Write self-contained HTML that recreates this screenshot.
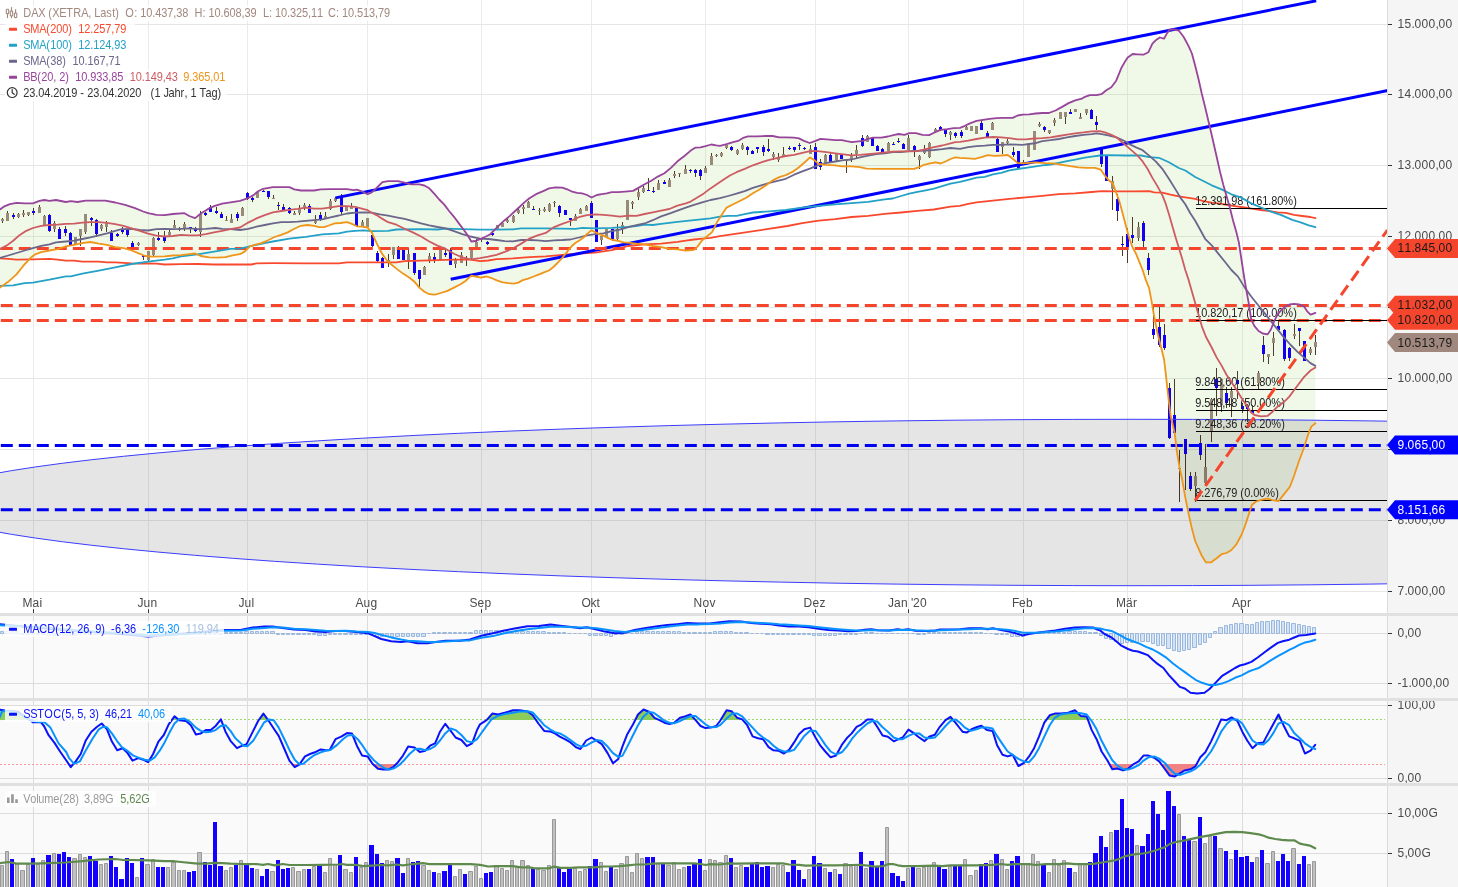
<!DOCTYPE html>
<html lang="de"><head><meta charset="utf-8"><title>DAX (XETRA, Last)</title>
<style>html,body{margin:0;padding:0;background:#fff;overflow:hidden}svg{display:block}</style>
</head><body>
<svg width="1458" height="887" viewBox="0 0 1458 887" font-family="'Liberation Sans', Arial, sans-serif" font-size="12">
<defs>
<clipPath id="cm"><rect x="0" y="0" width="1388" height="613"/></clipPath>
<clipPath id="c1"><rect x="0" y="616" width="1388" height="82"/></clipPath>
<clipPath id="c2"><rect x="0" y="701" width="1388" height="82"/></clipPath>
<clipPath id="c3"><rect x="0" y="786" width="1388" height="101"/></clipPath>
<clipPath id="a2"><rect x="1388" y="701" width="70" height="82"/></clipPath>
</defs>
<rect x="0" y="0" width="1458" height="887" fill="#fff"/>
<rect x="0" y="616" width="1388" height="271" fill="#fafafa"/>
<rect x="1388" y="0" width="70" height="887" fill="#f5f5f5"/>
<path d="M33.5 0V613 M148.5 0V613 M247.5 0V613 M367.5 0V613 M481.5 0V613 M591.5 0V613 M705.5 0V613 M815.5 0V613 M908.5 0V613 M1023.5 0V613 M1127.5 0V613 M1242.5 0V613" stroke="#eaeaea" stroke-width="1" fill="none"/>
<path d="M0 591.5H1388 M0 520.5H1388 M0 449.5H1388 M0 378.5H1388 M0 307.5H1388 M0 236.5H1388 M0 165.5H1388 M0 94.5H1388 M0 24.5H1388" stroke="#e6e6e6" stroke-width="1" fill="none"/>
<path d="M33.5 616V698M33.5 701V783M33.5 786V887 M148.5 616V698M148.5 701V783M148.5 786V887 M247.5 616V698M247.5 701V783M247.5 786V887 M367.5 616V698M367.5 701V783M367.5 786V887 M481.5 616V698M481.5 701V783M481.5 786V887 M591.5 616V698M591.5 701V783M591.5 786V887 M705.5 616V698M705.5 701V783M705.5 786V887 M815.5 616V698M815.5 701V783M815.5 786V887 M908.5 616V698M908.5 701V783M908.5 786V887 M1023.5 616V698M1023.5 701V783M1023.5 786V887 M1127.5 616V698M1127.5 701V783M1127.5 786V887 M1242.5 616V698M1242.5 701V783M1242.5 786V887 M0 633.5H1388 M0 683.5H1388 M0 705.5H1388 M0 778.5H1388 M0 813.5H1388 M0 853.5H1388" stroke="#dcdcdc" stroke-width="1" fill="none"/>
<!--MAIN-->
<g clip-path="url(#cm)">
<path d="M0.0 209.4 L4.9 206.1 L9.9 204.1 L16.5 202.8 L24.7 203.3 L32.9 203.3 L39.5 200.8 L44.4 200.0 L49.4 200.8 L56.0 200.0 L65.8 202.0 L70.8 201.2 L77.4 202.0 L85.6 200.7 L95.5 200.7 L105.3 200.7 L115.2 202.5 L125.1 204.9 L135.0 208.2 L143.2 211.5 L148.1 213.2 L156.4 214.8 L164.6 215.1 L172.8 214.0 L184.4 213.2 L189.3 216.0 L195.1 218.1 L200.8 213.5 L207.4 209.4 L214.0 206.1 L222.2 203.6 L230.5 202.3 L240.0 200.8 L246.6 198.7 L253.2 195.4 L258.1 191.3 L263.0 188.8 L272.9 187.2 L289.4 187.2 L294.3 189.3 L300.9 190.5 L314.1 190.5 L320.7 189.3 L330.5 189.1 L347.0 189.1 L353.6 190.1 L356.9 189.6 L361.8 191.3 L367.6 194.2 L371.7 192.4 L376.6 188.0 L382.4 182.2 L388.1 181.1 L398.0 181.1 L404.6 182.7 L411.2 184.4 L419.4 184.4 L424.4 185.5 L429.3 188.3 L434.2 193.7 L439.2 199.5 L444.1 204.4 L449.1 211.0 L454.0 216.8 L458.9 223.4 L463.9 230.0 L468.0 235.7 L471.3 241.5 L475.4 241.0 L480.0 239.1 L484.9 237.0 L489.9 234.5 L494.8 229.6 L499.8 224.7 L504.7 220.2 L509.6 216.1 L514.6 211.5 L519.5 207.0 L524.4 202.4 L529.4 198.3 L536.0 194.2 L542.6 191.4 L549.1 188.4 L555.7 187.3 L562.3 187.6 L567.2 189.3 L572.2 191.7 L577.1 192.9 L582.1 193.4 L587.0 195.0 L591.6 197.5 L596.9 195.0 L601.8 194.2 L606.7 193.4 L611.7 192.2 L618.3 192.2 L624.9 191.7 L633.1 190.9 L638.0 188.1 L644.6 184.3 L651.2 180.7 L657.8 176.6 L664.4 173.3 L670.9 167.9 L677.5 161.3 L684.1 156.3 L690.7 150.6 L695.6 147.6 L700.6 147.3 L705.5 146.1 L711.3 144.5 L716.2 145.3 L720.0 145.8 L726.6 144.2 L733.2 142.2 L738.1 140.9 L743.0 137.9 L748.0 136.3 L756.2 136.3 L766.1 136.0 L772.7 136.0 L779.3 137.3 L785.8 137.3 L794.1 137.6 L799.0 138.4 L804.0 140.9 L809.7 143.0 L815.5 140.9 L820.4 138.9 L827.0 139.3 L835.2 140.1 L841.8 140.1 L846.7 141.2 L851.7 142.2 L858.3 141.4 L863.2 140.9 L868.1 138.9 L873.1 137.6 L881.3 137.6 L887.9 136.5 L894.5 134.8 L898.6 134.0 L904.4 134.8 L909.3 133.2 L915.9 133.2 L922.5 134.8 L929.1 135.1 L934.0 132.7 L940.6 129.9 L947.2 129.1 L953.7 128.1 L960.0 127.8 L964.9 125.8 L969.9 123.4 L976.5 120.9 L983.0 119.8 L989.6 118.9 L996.2 118.1 L1002.8 117.9 L1012.7 117.9 L1017.6 115.5 L1022.6 114.7 L1029.1 114.3 L1035.7 113.5 L1042.3 113.0 L1048.9 113.0 L1055.5 110.5 L1062.1 106.9 L1068.6 103.1 L1075.2 100.3 L1081.8 98.7 L1084.9 96.8 L1089.9 95.1 L1096.5 95.1 L1101.4 94.2 L1106.3 90.2 L1111.3 87.2 L1116.2 80.7 L1121.2 68.3 L1124.4 62.6 L1127.7 57.6 L1132.7 54.0 L1137.6 54.3 L1143.4 54.7 L1148.3 52.3 L1152.4 43.6 L1155.7 40.3 L1159.8 37.5 L1164.0 38.7 L1167.2 32.9 L1169.7 29.6 L1173.8 29.3 L1178.8 30.5 L1183.7 37.0 L1188.6 46.1 L1191.9 53.5 L1195.2 65.8 L1198.5 79.0 L1201.8 93.8 L1205.1 107.0 L1208.4 121.0 L1211.7 135.0 L1216.6 156.5 L1219.9 171.3 L1223.2 184.4 L1226.5 196.0 L1229.8 207.5 L1233.1 220.7 L1236.4 232.2 L1238.8 242.1 L1241.3 258.5 L1243.8 275.0 L1246.3 289.9 L1248.7 303.0 L1251.2 319.5 L1254.5 326.1 L1258.6 331.0 L1262.7 333.5 L1267.7 334.3 L1270.9 329.4 L1274.2 321.2 L1277.5 314.6 L1281.6 309.6 L1285.8 306.3 L1289.9 304.4 L1294.0 303.9 L1298.9 304.4 L1303.9 306.3 L1307.2 311.3 L1310.5 314.6 L1315.4 312.9 L1315.4 423.3 L1311.3 426.6 L1308.0 434.8 L1303.9 448.0 L1298.9 461.2 L1294.0 476.0 L1289.9 486.7 L1284.1 494.1 L1278.4 501.2 L1272.6 500.2 L1267.7 498.7 L1261.1 499.8 L1256.1 501.5 L1252.0 504.8 L1247.9 517.1 L1244.6 527.0 L1241.3 535.2 L1236.4 544.3 L1231.4 550.0 L1226.5 553.0 L1221.6 554.2 L1216.6 558.3 L1210.9 562.4 L1205.9 562.4 L1201.8 555.8 L1198.5 548.4 L1195.2 541.0 L1191.9 528.6 L1188.6 513.8 L1185.3 497.4 L1182.1 479.3 L1179.6 467.7 L1177.1 452.9 L1174.7 433.2 L1170.5 415.0 L1168.9 401.8 L1167.2 387.0 L1165.6 372.2 L1164.0 359.0 L1160.7 345.8 L1157.4 332.7 L1154.1 316.2 L1151.6 301.4 L1149.1 288.2 L1145.8 279.9 L1142.6 270.0 L1139.3 261.8 L1136.0 253.6 L1132.7 247.8 L1129.4 238.8 L1126.1 226.4 L1122.8 214.1 L1119.5 201.7 L1116.2 192.7 L1112.9 183.6 L1108.8 180.3 L1104.7 175.4 L1100.6 169.6 L1095.0 167.8 L1086.7 167.8 L1078.5 167.3 L1070.3 166.2 L1062.1 164.9 L1053.8 163.4 L1045.6 163.2 L1035.7 162.4 L1029.1 162.9 L1022.6 163.4 L1017.6 162.9 L1012.7 158.8 L1007.7 155.0 L1001.2 155.5 L994.6 155.8 L988.0 155.1 L981.4 157.1 L974.8 158.8 L968.2 158.4 L960.0 157.9 L955.4 157.4 L950.5 159.0 L945.5 161.5 L940.6 163.5 L935.6 162.3 L929.1 163.6 L924.1 164.8 L919.2 167.2 L914.2 168.9 L892.8 168.9 L876.4 168.9 L866.5 168.6 L859.9 167.2 L851.7 166.4 L841.8 166.4 L835.2 165.3 L825.3 164.8 L818.8 164.0 L813.8 159.8 L810.0 157.4 L805.6 161.5 L799.0 167.2 L792.4 171.9 L785.8 175.1 L779.3 177.1 L772.7 180.4 L766.1 185.3 L759.5 189.5 L752.9 193.3 L746.3 197.7 L739.8 201.0 L733.2 204.3 L726.6 207.6 L720.0 217.4 L717.0 222.2 L712.1 232.1 L707.2 236.2 L702.2 240.3 L697.3 246.9 L694.0 249.8 L685.8 250.7 L677.5 249.3 L669.3 248.8 L661.1 247.2 L652.8 246.0 L644.6 244.4 L636.4 243.6 L630.0 242.8 L623.6 242.3 L618.1 240.9 L612.7 240.0 L608.3 238.1 L603.9 235.9 L599.5 234.3 L595.1 232.1 L591.3 230.4 L587.4 233.7 L584.1 237.0 L579.7 240.3 L575.3 243.0 L572.1 245.8 L568.8 249.6 L565.5 254.0 L562.2 257.9 L557.8 262.6 L553.4 267.0 L549.0 270.5 L544.6 272.1 L539.1 274.3 L533.6 276.5 L528.2 278.7 L522.7 280.1 L518.3 282.6 L513.9 283.6 L508.4 283.1 L502.9 282.3 L497.4 280.6 L491.9 278.2 L486.5 276.5 L481.0 277.6 L475.4 276.5 L471.3 275.7 L465.5 281.0 L460.6 284.3 L454.0 287.6 L447.4 290.9 L440.8 293.0 L435.1 294.7 L429.3 294.2 L424.4 291.7 L419.4 287.6 L414.5 281.8 L409.5 277.7 L403.0 273.6 L396.4 268.6 L391.4 264.5 L386.5 260.1 L381.6 253.0 L376.6 243.1 L371.7 232.4 L367.6 227.5 L361.8 226.7 L356.9 226.3 L351.9 223.9 L347.0 222.2 L340.4 223.0 L334.7 223.4 L328.9 225.5 L324.0 227.2 L319.0 227.2 L314.1 225.8 L307.5 225.0 L300.9 225.8 L294.3 228.8 L287.7 232.4 L281.2 234.9 L274.6 237.0 L268.0 240.3 L261.4 243.1 L254.8 244.8 L249.9 246.4 L244.9 251.4 L240.0 254.2 L233.7 255.1 L225.5 257.1 L217.3 257.6 L209.1 257.4 L200.8 256.0 L195.1 253.5 L189.3 254.2 L181.1 255.1 L172.8 255.5 L164.6 256.3 L151.4 256.6 L144.9 256.0 L139.9 253.8 L131.7 250.5 L123.5 248.1 L115.2 247.2 L107.0 244.8 L98.8 243.6 L90.5 242.0 L82.3 243.1 L74.1 244.8 L65.8 246.4 L57.6 249.2 L49.4 250.5 L41.2 252.2 L34.6 254.7 L29.6 258.8 L23.0 266.2 L16.5 274.4 L8.2 281.8 L0.0 287.6Z" fill="#8cc850" fill-opacity="0.13" stroke="none"/>
<path d="M2.5 218V223M7.5 211V221M13.5 213V219M18.5 213V218M23.5 210V217M28.5 212V216M33.5 208V215M39.5 205V213M44.5 215V226M49.5 214V232M54.5 221V232M59.5 227V239M65.5 226V236M70.5 232V246M75.5 237V244M80.5 229V246M85.5 214V234M91.5 217V226M96.5 219V237M101.5 224V231M106.5 221V232M111.5 230V241M117.5 233V237M122.5 227V234M127.5 229V237M132.5 241V247M138.5 242V246M143.5 255V260M148.5 251V262M153.5 237V256M158.5 232V241M164.5 231V243M169.5 230V236M174.5 220V228M179.5 227V231M184.5 222V231M190.5 227V233M195.5 227V232M200.5 211V237M205.5 212V216M210.5 205V212M216.5 207V214M221.5 212V218M226.5 216V221M231.5 214V223M237.5 212V221M242.5 207V216M247.5 192V200M252.5 197V202M257.5 191V198M263.5 190V192M268.5 191V199M273.5 195V199M278.5 202V210M283.5 204V210M289.5 207V214M294.5 211V215M299.5 205V215M304.5 203V210M309.5 204V213M315.5 215V224M320.5 212V221M325.5 212V219M330.5 199V210M335.5 197V202M341.5 194V215M346.5 206V211M351.5 203V209M356.5 208V227M362.5 220V227M367.5 218V227M372.5 234V247M377.5 251V262M382.5 257V268M388.5 254V267M393.5 247V259M398.5 246V259M403.5 250V260M408.5 248V269M414.5 253V275M419.5 270V288M424.5 266V275M429.5 253V263M434.5 253V263M440.5 248V260M445.5 248V257M450.5 248V265M455.5 258V268M461.5 252V263M466.5 256V266M471.5 250V259M476.5 239V247M481.5 238V242M487.5 241V245M492.5 232V236M497.5 225V229M502.5 223V227M507.5 219V223M513.5 215V223M518.5 209V214M523.5 205V214M528.5 201V208M533.5 206V210M539.5 208V215M544.5 207V212M549.5 203V212M554.5 201V207M559.5 205V217M565.5 210V215M570.5 218V226M575.5 214V221M580.5 208V214M586.5 205V211M591.5 201V218M596.5 220V242M601.5 235V245M606.5 229V237M612.5 229V241M617.5 224V240M622.5 222V234M627.5 200V220M632.5 201V209M638.5 189V200M643.5 186V193M648.5 178V191M653.5 187V193M658.5 180V190M664.5 180V184M669.5 178V187M674.5 171V178M679.5 173V177M685.5 165V174M690.5 169V173M695.5 169V177M700.5 169V180M705.5 166V173M711.5 153V165M716.5 154V157M721.5 152V157M726.5 145V149M731.5 146V151M737.5 149V155M742.5 143V150M747.5 146V155M752.5 150V154M757.5 147V153M763.5 145V156M768.5 139V152M773.5 152V160M778.5 153V162M783.5 147V156M789.5 146V150M794.5 147V152M799.5 143V150M804.5 147V150M810.5 145V154M815.5 143V169M820.5 159V170M825.5 154V163M830.5 153V162M836.5 154V161M841.5 155V159M846.5 159V173M851.5 153V162M856.5 145V158M862.5 135V147M867.5 135V142M872.5 138V146M877.5 145V151M882.5 148V153M888.5 142V151M893.5 142V145M898.5 138V143M903.5 143V149M908.5 135V150M914.5 145V157M919.5 155V169M924.5 145V154M929.5 142V158M935.5 128V133M940.5 126V131M945.5 129V137M950.5 131V140M955.5 132V138M961.5 130V138M966.5 126V130M971.5 126V131M976.5 126V134M981.5 121V130M987.5 131V137M992.5 122V130M997.5 138V152M1002.5 142V154M1007.5 139V144M1013.5 147V157M1018.5 151V168M1023.5 160V164M1028.5 145V157M1034.5 131V150M1039.5 122V127M1044.5 126V132M1049.5 130V134M1054.5 118V126M1060.5 112V119M1065.5 112V124M1070.5 109V114M1075.5 109V112M1080.5 113V119M1086.5 109V115M1091.5 109V119M1096.5 116V130M1101.5 148V167M1106.5 156V181M1112.5 176V210M1117.5 194V221M1122.5 236V256M1127.5 228V263M1132.5 217V243M1138.5 222V241M1143.5 221V247M1148.5 253V275M1153.5 307V339M1159.5 306V347M1164.5 324V350M1169.5 383V439M1174.5 379V434M1179.5 450V502M1185.5 439V490M1190.5 472V491M1195.5 472V502M1200.5 435V460M1205.5 444V486M1211.5 398V442M1216.5 368V416M1221.5 379V412M1226.5 387V408M1231.5 387V417M1237.5 371V399M1242.5 403V413M1247.5 404V422M1252.5 405V413M1258.5 371V389M1263.5 336V362M1268.5 354V364M1273.5 332V356M1278.5 321V330M1284.5 329V361M1289.5 347V361M1294.5 324V339M1299.5 328V346M1304.5 341V361M1310.5 347V355M1315.5 335V355" stroke="#4e3b2c" stroke-width="1" fill="none"/>
<path d="M1.0 219h3V221h-3ZM6.0 213h3V221h-3ZM17.0 214h3V217h-3ZM22.0 213h3V215h-3ZM27.0 212h3V215h-3ZM38.0 207h3V213h-3ZM43.0 216h3V225h-3ZM53.0 223h3V229h-3ZM74.0 237h3V244h-3ZM79.0 229h3V236h-3ZM84.0 214h3V232h-3ZM100.0 225h3V229h-3ZM105.0 223h3V227h-3ZM137.0 243h3V245h-3ZM147.0 251h3V260h-3ZM152.0 238h3V255h-3ZM168.0 232h3V235h-3ZM173.0 225h3V228h-3ZM178.0 228h3V230h-3ZM183.0 224h3V228h-3ZM199.0 214h3V232h-3ZM225.0 220h3V221h-3ZM230.0 219h3V223h-3ZM241.0 208h3V216h-3ZM256.0 192h3V198h-3ZM272.0 198h3V199h-3ZM293.0 213h3V215h-3ZM298.0 209h3V213h-3ZM303.0 205h3V207h-3ZM314.0 221h3V223h-3ZM324.0 216h3V219h-3ZM329.0 201h3V209h-3ZM334.0 198h3V201h-3ZM345.0 206h3V211h-3ZM350.0 206h3V209h-3ZM361.0 222h3V226h-3ZM366.0 218h3V227h-3ZM387.0 260h3V262h-3ZM392.0 247h3V255h-3ZM407.0 254h3V261h-3ZM423.0 267h3V275h-3ZM428.0 256h3V261h-3ZM439.0 250h3V260h-3ZM454.0 259h3V264h-3ZM460.0 255h3V263h-3ZM470.0 250h3V258h-3ZM475.0 242h3V247h-3ZM480.0 238h3V240h-3ZM496.0 225h3V229h-3ZM501.0 223h3V227h-3ZM506.0 220h3V222h-3ZM512.0 216h3V222h-3ZM517.0 210h3V213h-3ZM522.0 207h3V209h-3ZM527.0 202h3V208h-3ZM538.0 210h3V211h-3ZM543.0 209h3V211h-3ZM548.0 204h3V211h-3ZM553.0 202h3V203h-3ZM574.0 216h3V221h-3ZM579.0 209h3V214h-3ZM585.0 206h3V211h-3ZM600.0 236h3V240h-3ZM605.0 229h3V237h-3ZM616.0 229h3V239h-3ZM621.0 225h3V229h-3ZM626.0 200h3V220h-3ZM631.0 202h3V204h-3ZM637.0 192h3V197h-3ZM642.0 188h3V192h-3ZM657.0 183h3V190h-3ZM668.0 180h3V187h-3ZM673.0 174h3V176h-3ZM678.0 173h3V174h-3ZM684.0 169h3V174h-3ZM704.0 168h3V173h-3ZM710.0 156h3V165h-3ZM715.0 155h3V156h-3ZM720.0 153h3V156h-3ZM725.0 145h3V148h-3ZM736.0 150h3V154h-3ZM741.0 145h3V149h-3ZM772.0 154h3V157h-3ZM777.0 157h3V160h-3ZM782.0 154h3V156h-3ZM809.0 149h3V154h-3ZM824.0 155h3V163h-3ZM835.0 154h3V160h-3ZM845.0 160h3V161h-3ZM850.0 155h3V159h-3ZM855.0 150h3V154h-3ZM866.0 136h3V142h-3ZM887.0 143h3V151h-3ZM907.0 138h3V150h-3ZM918.0 156h3V160h-3ZM923.0 149h3V153h-3ZM928.0 143h3V157h-3ZM934.0 129h3V132h-3ZM949.0 132h3V135h-3ZM965.0 127h3V130h-3ZM970.0 126h3V131h-3ZM975.0 126h3V134h-3ZM991.0 123h3V130h-3ZM1001.0 142h3V147h-3ZM1006.0 141h3V143h-3ZM1022.0 162h3V164h-3ZM1027.0 145h3V157h-3ZM1033.0 131h3V150h-3ZM1038.0 124h3V126h-3ZM1048.0 130h3V133h-3ZM1053.0 120h3V123h-3ZM1059.0 112h3V119h-3ZM1064.0 112h3V117h-3ZM1074.0 109h3V112h-3ZM1079.0 117h3V119h-3ZM1085.0 109h3V113h-3ZM1111.0 181h3V189h-3ZM1137.0 227h3V238h-3ZM1178.0 468h3V469h-3ZM1194.0 476h3V486h-3ZM1204.0 467h3V483h-3ZM1210.0 399h3V432h-3ZM1220.0 379h3V405h-3ZM1230.0 391h3V398h-3ZM1257.0 373h3V383h-3ZM1267.0 354h3V357h-3ZM1272.0 338h3V343h-3ZM1293.0 334h3V336h-3ZM1309.0 349h3V353h-3ZM1314.0 342h3V347h-3Z" fill="#9a8a78"/>
<path d="M12.0 215h3V217h-3ZM32.0 211h3V213h-3ZM48.0 215h3V231h-3ZM58.0 229h3V239h-3ZM64.0 229h3V233h-3ZM69.0 233h3V245h-3ZM90.0 218h3V220h-3ZM95.0 220h3V234h-3ZM110.0 233h3V241h-3ZM116.0 234h3V236h-3ZM121.0 230h3V232h-3ZM126.0 230h3V235h-3ZM131.0 243h3V247h-3ZM142.0 255h3V257h-3ZM157.0 238h3V240h-3ZM163.0 237h3V241h-3ZM189.0 227h3V229h-3ZM194.0 228h3V231h-3ZM204.0 213h3V215h-3ZM209.0 207h3V212h-3ZM215.0 211h3V213h-3ZM220.0 214h3V218h-3ZM236.0 214h3V218h-3ZM246.0 193h3V199h-3ZM251.0 198h3V200h-3ZM262.0 191h3V192h-3ZM267.0 191h3V197h-3ZM277.0 205h3V206h-3ZM282.0 207h3V210h-3ZM288.0 208h3V213h-3ZM308.0 206h3V213h-3ZM319.0 215h3V219h-3ZM340.0 197h3V212h-3ZM355.0 208h3V226h-3ZM371.0 235h3V246h-3ZM376.0 253h3V261h-3ZM381.0 258h3V268h-3ZM397.0 250h3V259h-3ZM402.0 250h3V260h-3ZM413.0 253h3V273h-3ZM418.0 270h3V279h-3ZM433.0 257h3V261h-3ZM444.0 253h3V255h-3ZM449.0 250h3V265h-3ZM465.0 258h3V260h-3ZM486.0 242h3V244h-3ZM491.0 233h3V235h-3ZM532.0 209h3V210h-3ZM558.0 206h3V213h-3ZM564.0 210h3V215h-3ZM569.0 218h3V220h-3ZM590.0 203h3V218h-3ZM595.0 220h3V242h-3ZM611.0 229h3V239h-3ZM647.0 190h3V191h-3ZM652.0 191h3V192h-3ZM663.0 182h3V184h-3ZM689.0 170h3V171h-3ZM694.0 170h3V173h-3ZM699.0 170h3V176h-3ZM730.0 147h3V150h-3ZM746.0 147h3V150h-3ZM751.0 151h3V154h-3ZM756.0 147h3V149h-3ZM762.0 147h3V152h-3ZM767.0 149h3V151h-3ZM788.0 148h3V149h-3ZM793.0 147h3V150h-3ZM798.0 145h3V146h-3ZM803.0 148h3V149h-3ZM814.0 147h3V169h-3ZM819.0 162h3V167h-3ZM829.0 155h3V162h-3ZM840.0 155h3V159h-3ZM861.0 138h3V146h-3ZM871.0 138h3V146h-3ZM876.0 146h3V151h-3ZM881.0 149h3V152h-3ZM892.0 144h3V145h-3ZM897.0 141h3V142h-3ZM902.0 144h3V149h-3ZM913.0 146h3V150h-3ZM939.0 127h3V130h-3ZM944.0 129h3V134h-3ZM954.0 133h3V136h-3ZM960.0 132h3V136h-3ZM980.0 123h3V130h-3ZM986.0 133h3V137h-3ZM996.0 139h3V152h-3ZM1012.0 152h3V155h-3ZM1017.0 151h3V168h-3ZM1043.0 127h3V130h-3ZM1069.0 112h3V114h-3ZM1090.0 110h3V119h-3ZM1095.0 122h3V125h-3ZM1100.0 149h3V164h-3ZM1105.0 156h3V181h-3ZM1116.0 199h3V211h-3ZM1121.0 244h3V245h-3ZM1126.0 234h3V247h-3ZM1131.0 235h3V238h-3ZM1142.0 223h3V241h-3ZM1147.0 258h3V270h-3ZM1152.0 329h3V335h-3ZM1158.0 327h3V345h-3ZM1163.0 335h3V348h-3ZM1168.0 388h3V438h-3ZM1173.0 415h3V433h-3ZM1184.0 439h3V454h-3ZM1189.0 476h3V489h-3ZM1199.0 443h3V455h-3ZM1215.0 379h3V388h-3ZM1225.0 393h3V403h-3ZM1236.0 380h3V384h-3ZM1241.0 406h3V409h-3ZM1246.0 406h3V409h-3ZM1251.0 411h3V413h-3ZM1262.0 345h3V354h-3ZM1277.0 326h3V330h-3ZM1283.0 330h3V359h-3ZM1288.0 348h3V358h-3ZM1298.0 328h3V331h-3ZM1303.0 341h3V361h-3Z" fill="#1200f5"/>
<path d="M0.0 258.3 L8.2 258.8 L16.5 259.6 L32.9 259.3 L49.4 258.8 L57.6 259.6 L65.8 260.7 L74.1 260.7 L82.3 261.7 L98.8 261.7 L107.0 262.4 L115.2 262.4 L131.7 263.4 L139.9 263.7 L148.1 263.4 L156.4 263.7 L164.6 264.5 L181.1 264.2 L197.5 264.0 L214.0 264.5 L240.0 264.5 L251.5 264.5 L256.5 263.4 L272.9 263.2 L305.8 263.4 L338.8 263.4 L347.0 262.4 L371.7 262.4 L396.4 262.4 L404.6 261.2 L421.1 260.7 L437.5 260.1 L454.0 259.6 L470.5 259.6 L480.0 261.2 L488.2 260.5 L496.5 259.2 L512.9 258.4 L529.4 257.2 L545.8 256.4 L562.3 254.8 L578.8 253.5 L595.2 252.6 L611.7 250.2 L619.9 248.2 L628.1 246.0 L644.6 244.4 L661.1 243.6 L677.5 241.9 L685.8 240.6 L694.0 239.5 L702.2 238.6 L710.5 237.8 L720.0 236.2 L787.5 226.0 L802.3 223.2 L818.8 220.7 L835.2 219.1 L851.7 217.0 L868.1 215.8 L884.6 213.8 L901.1 212.5 L917.5 210.9 L934.0 209.5 L950.5 206.7 L960.0 205.9 L968.2 203.9 L976.5 202.4 L992.9 200.7 L1009.4 198.8 L1025.8 197.4 L1042.3 195.8 L1058.8 194.2 L1075.2 193.3 L1091.7 192.0 L1101.6 191.2 L1116.4 191.4 L1132.8 191.4 L1149.3 191.2 L1154.1 192.3 L1162.3 192.7 L1170.5 194.7 L1178.8 196.3 L1187.0 197.6 L1195.2 198.9 L1203.5 201.2 L1211.7 202.6 L1219.9 203.7 L1228.1 205.0 L1236.4 206.3 L1244.6 207.5 L1252.8 208.8 L1261.1 210.0 L1269.3 211.1 L1277.5 212.4 L1285.8 212.8 L1294.0 214.9 L1302.2 216.0 L1310.5 217.0 L1315.4 218.2" fill="none" stroke="#f8492e" stroke-width="1.8" stroke-linejoin="round" stroke-linecap="round"/>
<ellipse cx="1133" cy="502.5" rx="1214" ry="83.2" fill="#000" fill-opacity="0.1" stroke="#3c3cff" stroke-width="1"/>
<path d="M335.5 197.9L1316.2 0.8" stroke="#0000ff" stroke-width="3" fill="none"/>
<path d="M450.7 279.3L1388 90.5" stroke="#0000ff" stroke-width="3" fill="none"/>
<path d="M0.8 248.4H1388" stroke="#f5462d" stroke-width="3" stroke-dasharray="12 6" fill="none"/>
<path d="M0.8 305.6H1388" stroke="#f5462d" stroke-width="3" stroke-dasharray="12 6" fill="none"/>
<path d="M0.8 320.4H1388" stroke="#f5462d" stroke-width="3" stroke-dasharray="12 6" fill="none"/>
<path d="M0.8 445.4H1388" stroke="#0000f0" stroke-width="3" stroke-dasharray="12 6" fill="none"/>
<path d="M0.8 509.7H1388" stroke="#0000f0" stroke-width="3" stroke-dasharray="12 6" fill="none"/>
<path d="M1196 208.5H1388" stroke="#000" stroke-width="1"/><text x="1195.2 1201.2 1207.2 1210.2 1216.2 1222.2 1228.2 1231.2 1237.2 1243.2 1246.2 1250.2 1256.2 1262.2 1268.2 1271.2 1277.2 1283.2 1293.2" y="205.0" font-size="11" fill="#222" transform="matrix(1 0 0 1.09 0 -18.450)">12.391,98 (161.80%)</text>
<path d="M1196 320.5H1388" stroke="#000" stroke-width="1"/><text x="1195.2 1201.2 1207.2 1210.2 1216.2 1222.2 1228.2 1231.2 1237.2 1243.2 1246.2 1250.2 1256.2 1262.2 1268.2 1271.2 1277.2 1283.2 1293.2" y="317.0" font-size="11" fill="#222" transform="matrix(1 0 0 1.09 0 -28.530)">10.820,17 (100.00%)</text>
<path d="M1196 389.5H1388" stroke="#000" stroke-width="1"/><text x="1195.2 1201.2 1204.2 1210.2 1216.2 1222.2 1225.2 1231.2 1237.2 1240.2 1244.2 1250.2 1256.2 1259.2 1265.2 1271.2 1281.2" y="386.0" font-size="11" fill="#222" transform="matrix(1 0 0 1.09 0 -34.740)">9.848,60 (61.80%)</text>
<path d="M1196 410.5H1388" stroke="#000" stroke-width="1"/><text x="1195.2 1201.2 1204.2 1210.2 1216.2 1222.2 1225.2 1231.2 1237.2 1240.2 1244.2 1250.2 1256.2 1259.2 1265.2 1271.2 1281.2" y="407.0" font-size="11" fill="#222" transform="matrix(1 0 0 1.09 0 -36.630)">9.548,48 (50.00%)</text>
<path d="M1196 431.5H1388" stroke="#000" stroke-width="1"/><text x="1195.2 1201.2 1204.2 1210.2 1216.2 1222.2 1225.2 1231.2 1237.2 1240.2 1244.2 1250.2 1256.2 1259.2 1265.2 1271.2 1281.2" y="428.0" font-size="11" fill="#222" transform="matrix(1 0 0 1.09 0 -38.520)">9.248,36 (38.20%)</text>
<path d="M1196 500.5H1388" stroke="#000" stroke-width="1"/><text x="1195.2 1201.2 1204.2 1210.2 1216.2 1222.2 1225.2 1231.2 1237.2 1240.2 1244.2 1250.2 1253.2 1259.2 1265.2 1275.2" y="497.0" font-size="11" fill="#222" transform="matrix(1 0 0 1.09 0 -44.730)">8.276,79 (0.00%)</text>
<path d="M1195 500.6L1387.4 230" stroke="#f5462d" stroke-width="3" stroke-dasharray="12 6" fill="none"/>
<path d="M0.0 285.9 L13.2 285.4 L24.7 283.1 L32.9 282.6 L49.4 279.7 L65.8 276.4 L70.8 276.4 L82.3 273.6 L98.8 270.6 L115.2 267.3 L131.7 264.0 L148.1 261.6 L164.6 259.6 L172.8 258.3 L181.1 256.3 L197.5 254.3 L214.0 251.7 L230.5 248.9 L240.0 248.6 L246.6 247.2 L256.5 244.8 L264.7 243.1 L272.9 241.5 L289.4 238.7 L305.8 236.9 L322.3 234.4 L338.8 233.3 L347.0 231.6 L355.2 230.8 L363.5 230.3 L371.7 231.1 L388.1 230.8 L396.4 229.5 L421.1 229.1 L437.5 229.5 L445.8 228.6 L462.2 229.1 L480.0 229.6 L496.5 229.6 L512.9 229.3 L521.2 228.4 L545.8 228.4 L575.5 228.8 L582.1 227.9 L595.2 228.3 L611.7 227.9 L619.9 227.4 L628.1 226.8 L636.4 226.0 L644.6 224.7 L652.8 225.0 L661.1 223.8 L677.5 221.9 L694.0 220.2 L710.5 218.4 L720.0 216.6 L728.2 215.8 L736.5 215.8 L744.7 214.2 L752.9 212.5 L769.4 211.4 L785.8 210.0 L802.3 207.6 L818.8 205.9 L835.2 204.3 L851.7 203.1 L868.1 201.8 L884.6 199.3 L892.8 198.5 L901.1 196.0 L909.3 193.6 L917.5 191.9 L925.8 190.3 L934.0 188.6 L942.2 186.2 L950.5 183.7 L960.0 181.8 L968.2 179.8 L976.5 177.7 L984.7 176.9 L992.9 174.4 L1001.2 172.8 L1009.4 170.3 L1017.6 169.0 L1025.8 167.8 L1034.1 166.7 L1042.3 165.3 L1050.5 164.5 L1058.8 162.9 L1067.0 161.2 L1075.2 159.6 L1083.5 157.9 L1091.7 156.6 L1099.9 155.5 L1108.1 155.1 L1124.6 155.5 L1141.1 155.5 L1149.3 157.1 L1159.0 157.8 L1168.9 162.2 L1178.8 168.0 L1185.3 170.5 L1195.2 177.0 L1201.8 180.3 L1211.7 185.3 L1221.6 189.4 L1231.4 194.3 L1241.3 197.6 L1251.2 203.4 L1261.1 207.5 L1270.9 211.6 L1280.8 214.9 L1292.3 219.8 L1300.6 222.3 L1308.8 225.3 L1315.4 227.2" fill="none" stroke="#23a1c6" stroke-width="1.8" stroke-linejoin="round" stroke-linecap="round"/>
<path d="M0.0 257.9 L8.2 255.5 L16.5 253.0 L24.7 250.5 L32.9 248.1 L41.2 245.9 L49.4 244.3 L56.0 242.3 L65.8 241.5 L74.1 240.7 L82.3 239.0 L90.5 237.4 L98.8 235.4 L107.0 233.3 L115.2 230.8 L121.8 229.1 L131.7 228.8 L139.9 230.0 L148.1 230.5 L156.4 229.1 L164.6 228.8 L172.8 229.1 L181.1 228.8 L189.3 228.3 L197.5 229.1 L205.8 228.8 L215.6 228.0 L222.2 228.8 L230.5 229.1 L240.0 230.0 L248.2 228.8 L256.5 226.7 L264.7 225.0 L272.9 223.4 L281.2 222.2 L289.4 222.2 L297.6 221.7 L305.8 220.9 L314.1 220.1 L322.3 219.3 L330.5 217.3 L338.8 215.5 L347.0 213.5 L355.2 212.7 L363.5 212.3 L371.7 212.7 L379.9 214.3 L388.1 215.6 L396.4 217.3 L404.6 218.9 L412.8 221.2 L421.1 223.4 L429.3 225.3 L437.5 227.0 L445.8 228.3 L454.0 231.1 L462.2 234.1 L470.5 236.5 L480.0 238.6 L488.2 239.0 L496.5 240.0 L504.7 241.1 L512.9 241.4 L521.2 240.0 L529.4 240.0 L537.6 240.3 L545.8 241.1 L554.1 240.3 L562.3 240.0 L570.5 239.5 L578.8 237.5 L587.0 235.3 L595.2 234.2 L603.5 233.4 L611.7 231.2 L619.9 229.6 L628.1 227.1 L636.4 225.1 L644.6 223.5 L652.8 220.2 L661.1 216.4 L669.3 213.6 L677.5 210.7 L685.8 207.7 L694.0 204.9 L702.2 202.4 L710.5 200.0 L720.0 198.2 L728.2 196.0 L736.5 193.6 L744.7 191.1 L752.9 187.8 L761.2 185.3 L769.4 182.9 L777.6 180.9 L785.8 178.8 L794.1 174.7 L802.3 171.4 L810.5 168.4 L818.8 164.8 L827.0 162.8 L835.2 161.5 L843.5 160.2 L851.7 159.5 L859.9 157.4 L868.1 155.7 L876.4 154.1 L884.6 153.3 L892.8 152.1 L901.1 152.1 L909.3 151.1 L917.5 150.8 L925.8 150.5 L934.0 150.0 L942.2 149.1 L950.5 148.0 L960.0 148.9 L968.2 147.2 L976.5 146.1 L984.7 145.6 L992.9 144.8 L1001.2 144.8 L1009.4 144.4 L1022.6 144.8 L1029.1 144.0 L1035.7 143.1 L1042.3 141.2 L1050.5 140.2 L1058.8 139.0 L1067.0 137.4 L1075.2 136.0 L1083.5 134.9 L1091.7 134.1 L1096.6 133.3 L1101.6 134.1 L1108.1 135.4 L1116.4 137.4 L1124.6 141.0 L1129.4 144.1 L1136.0 147.4 L1142.6 150.2 L1149.1 155.6 L1155.7 161.4 L1162.3 168.8 L1168.9 178.7 L1175.5 189.4 L1180.4 197.6 L1185.3 204.2 L1190.3 213.3 L1195.2 220.7 L1200.2 229.7 L1205.1 238.8 L1211.7 245.3 L1218.3 253.6 L1224.9 261.8 L1231.4 270.0 L1238.0 276.6 L1244.6 287.4 L1251.2 296.5 L1257.8 304.7 L1264.4 312.9 L1270.9 321.2 L1277.5 329.4 L1284.1 337.6 L1290.7 345.0 L1297.3 351.6 L1303.9 357.4 L1310.5 363.1 L1315.4 365.9" fill="none" stroke="#6b668a" stroke-width="1.8" stroke-linejoin="round" stroke-linecap="round"/>
<path d="M0.0 287.6 L8.2 281.8 L16.5 274.4 L23.0 266.2 L29.6 258.8 L34.6 254.7 L41.2 252.2 L49.4 250.5 L57.6 249.2 L65.8 246.4 L74.1 244.8 L82.3 243.1 L90.5 242.0 L98.8 243.6 L107.0 244.8 L115.2 247.2 L123.5 248.1 L131.7 250.5 L139.9 253.8 L144.9 256.0 L151.4 256.6 L164.6 256.3 L172.8 255.5 L181.1 255.1 L189.3 254.2 L195.1 253.5 L200.8 256.0 L209.1 257.4 L217.3 257.6 L225.5 257.1 L233.7 255.1 L240.0 254.2 L244.9 251.4 L249.9 246.4 L254.8 244.8 L261.4 243.1 L268.0 240.3 L274.6 237.0 L281.2 234.9 L287.7 232.4 L294.3 228.8 L300.9 225.8 L307.5 225.0 L314.1 225.8 L319.0 227.2 L324.0 227.2 L328.9 225.5 L334.7 223.4 L340.4 223.0 L347.0 222.2 L351.9 223.9 L356.9 226.3 L361.8 226.7 L367.6 227.5 L371.7 232.4 L376.6 243.1 L381.6 253.0 L386.5 260.1 L391.4 264.5 L396.4 268.6 L403.0 273.6 L409.5 277.7 L414.5 281.8 L419.4 287.6 L424.4 291.7 L429.3 294.2 L435.1 294.7 L440.8 293.0 L447.4 290.9 L454.0 287.6 L460.6 284.3 L465.5 281.0 L471.3 275.7 L475.4 276.5 L481.0 277.6 L486.5 276.5 L491.9 278.2 L497.4 280.6 L502.9 282.3 L508.4 283.1 L513.9 283.6 L518.3 282.6 L522.7 280.1 L528.2 278.7 L533.6 276.5 L539.1 274.3 L544.6 272.1 L549.0 270.5 L553.4 267.0 L557.8 262.6 L562.2 257.9 L565.5 254.0 L568.8 249.6 L572.1 245.8 L575.3 243.0 L579.7 240.3 L584.1 237.0 L587.4 233.7 L591.3 230.4 L595.1 232.1 L599.5 234.3 L603.9 235.9 L608.3 238.1 L612.7 240.0 L618.1 240.9 L623.6 242.3 L630.0 242.8 L636.4 243.6 L644.6 244.4 L652.8 246.0 L661.1 247.2 L669.3 248.8 L677.5 249.3 L685.8 250.7 L694.0 249.8 L697.3 246.9 L702.2 240.3 L707.2 236.2 L712.1 232.1 L717.0 222.2 L720.0 217.4 L726.6 207.6 L733.2 204.3 L739.8 201.0 L746.3 197.7 L752.9 193.3 L759.5 189.5 L766.1 185.3 L772.7 180.4 L779.3 177.1 L785.8 175.1 L792.4 171.9 L799.0 167.2 L805.6 161.5 L810.0 157.4 L813.8 159.8 L818.8 164.0 L825.3 164.8 L835.2 165.3 L841.8 166.4 L851.7 166.4 L859.9 167.2 L866.5 168.6 L876.4 168.9 L892.8 168.9 L914.2 168.9 L919.2 167.2 L924.1 164.8 L929.1 163.6 L935.6 162.3 L940.6 163.5 L945.5 161.5 L950.5 159.0 L955.4 157.4 L960.0 157.9 L968.2 158.4 L974.8 158.8 L981.4 157.1 L988.0 155.1 L994.6 155.8 L1001.2 155.5 L1007.7 155.0 L1012.7 158.8 L1017.6 162.9 L1022.6 163.4 L1029.1 162.9 L1035.7 162.4 L1045.6 163.2 L1053.8 163.4 L1062.1 164.9 L1070.3 166.2 L1078.5 167.3 L1086.7 167.8 L1095.0 167.8 L1100.6 169.6 L1104.7 175.4 L1108.8 180.3 L1112.9 183.6 L1116.2 192.7 L1119.5 201.7 L1122.8 214.1 L1126.1 226.4 L1129.4 238.8 L1132.7 247.8 L1136.0 253.6 L1139.3 261.8 L1142.6 270.0 L1145.8 279.9 L1149.1 288.2 L1151.6 301.4 L1154.1 316.2 L1157.4 332.7 L1160.7 345.8 L1164.0 359.0 L1165.6 372.2 L1167.2 387.0 L1168.9 401.8 L1170.5 415.0 L1174.7 433.2 L1177.1 452.9 L1179.6 467.7 L1182.1 479.3 L1185.3 497.4 L1188.6 513.8 L1191.9 528.6 L1195.2 541.0 L1198.5 548.4 L1201.8 555.8 L1205.9 562.4 L1210.9 562.4 L1216.6 558.3 L1221.6 554.2 L1226.5 553.0 L1231.4 550.0 L1236.4 544.3 L1241.3 535.2 L1244.6 527.0 L1247.9 517.1 L1252.0 504.8 L1256.1 501.5 L1261.1 499.8 L1267.7 498.7 L1272.6 500.2 L1278.4 501.2 L1284.1 494.1 L1289.9 486.7 L1294.0 476.0 L1298.9 461.2 L1303.9 448.0 L1308.0 434.8 L1311.3 426.6 L1315.4 423.3" fill="none" stroke="#ef9519" stroke-width="1.8" stroke-linejoin="round" stroke-linecap="round"/>
<path d="M0.0 248.9 L6.6 245.6 L13.2 240.7 L19.8 234.9 L26.3 230.8 L32.9 228.0 L41.2 225.8 L49.4 225.0 L57.6 224.7 L65.8 223.9 L74.1 223.7 L82.3 222.6 L90.5 222.1 L98.8 222.1 L107.0 222.9 L115.2 224.2 L123.5 225.8 L131.7 228.3 L139.9 230.8 L148.1 233.7 L156.4 235.7 L164.6 236.5 L172.8 236.0 L181.1 234.9 L189.3 235.4 L197.5 235.4 L205.8 234.1 L214.0 232.4 L222.2 230.8 L230.5 229.1 L240.0 227.5 L248.2 222.6 L256.5 218.4 L264.7 215.1 L272.9 212.3 L281.2 211.0 L289.4 209.9 L297.6 208.9 L305.8 207.7 L314.1 208.6 L322.3 208.6 L330.5 207.4 L338.8 206.1 L347.0 206.1 L355.2 206.9 L361.8 208.6 L367.6 210.2 L371.7 212.7 L376.6 215.1 L381.6 218.4 L388.1 222.2 L396.4 224.7 L404.6 228.8 L412.8 232.4 L421.1 236.5 L429.3 241.5 L437.5 245.6 L445.8 248.9 L454.0 253.8 L462.2 257.4 L470.5 259.3 L480.0 258.1 L488.2 256.7 L496.5 254.8 L504.7 251.8 L512.9 248.5 L521.2 243.6 L529.4 238.6 L537.6 235.3 L545.8 232.9 L554.1 227.1 L562.3 223.8 L570.5 221.0 L578.8 217.2 L587.0 215.1 L595.2 214.4 L603.5 214.8 L611.7 215.6 L619.9 216.7 L628.1 215.6 L636.4 215.9 L644.6 214.0 L652.8 212.3 L661.1 210.7 L669.3 209.0 L677.5 205.7 L685.8 203.3 L690.7 201.6 L697.3 197.5 L703.9 193.4 L710.5 188.4 L720.0 182.1 L724.9 178.8 L729.9 175.5 L736.5 172.2 L744.7 168.9 L752.9 165.3 L761.2 162.3 L769.4 159.8 L777.6 157.9 L785.8 156.0 L794.1 154.9 L802.3 152.9 L808.9 151.3 L815.5 150.8 L822.1 151.6 L828.6 152.4 L835.2 153.3 L843.5 154.4 L851.7 155.4 L859.9 154.9 L868.1 154.1 L876.4 153.3 L884.6 152.4 L892.8 151.6 L901.1 151.3 L909.3 151.3 L917.5 151.1 L925.8 149.1 L934.0 147.2 L942.2 145.5 L950.5 143.4 L955.4 142.2 L960.0 141.8 L968.2 140.7 L976.5 139.0 L984.7 137.7 L992.9 137.0 L1001.2 137.4 L1009.4 138.2 L1017.6 139.3 L1025.8 139.3 L1034.1 138.5 L1042.3 138.2 L1050.5 137.4 L1058.8 136.0 L1067.0 134.6 L1075.2 133.3 L1083.5 132.4 L1091.7 131.3 L1099.9 131.1 L1104.9 132.4 L1111.4 134.9 L1116.4 137.4 L1121.3 141.5 L1124.4 144.1 L1131.0 149.9 L1137.6 155.6 L1142.6 161.4 L1147.5 168.8 L1152.4 177.9 L1157.4 186.1 L1162.3 195.1 L1165.6 203.4 L1168.9 214.1 L1172.2 225.6 L1175.5 237.1 L1178.8 247.8 L1182.1 258.5 L1185.3 270.0 L1188.6 279.9 L1191.9 291.5 L1195.2 303.0 L1198.5 314.6 L1201.8 326.1 L1205.9 336.8 L1211.7 347.5 L1216.6 357.4 L1221.6 365.6 L1226.5 374.7 L1231.4 382.1 L1236.4 389.5 L1241.3 397.7 L1246.3 405.1 L1251.2 412.5 L1254.5 415.0 L1261.1 416.3 L1267.7 415.8 L1272.6 411.7 L1277.5 406.7 L1284.1 401.8 L1289.1 396.9 L1294.0 390.3 L1298.9 383.7 L1303.9 377.1 L1310.5 370.5 L1315.4 367.6" fill="none" stroke="#cd5c62" stroke-width="1.8" stroke-linejoin="round" stroke-linecap="round"/>
<path d="M0.0 209.4 L4.9 206.1 L9.9 204.1 L16.5 202.8 L24.7 203.3 L32.9 203.3 L39.5 200.8 L44.4 200.0 L49.4 200.8 L56.0 200.0 L65.8 202.0 L70.8 201.2 L77.4 202.0 L85.6 200.7 L95.5 200.7 L105.3 200.7 L115.2 202.5 L125.1 204.9 L135.0 208.2 L143.2 211.5 L148.1 213.2 L156.4 214.8 L164.6 215.1 L172.8 214.0 L184.4 213.2 L189.3 216.0 L195.1 218.1 L200.8 213.5 L207.4 209.4 L214.0 206.1 L222.2 203.6 L230.5 202.3 L240.0 200.8 L246.6 198.7 L253.2 195.4 L258.1 191.3 L263.0 188.8 L272.9 187.2 L289.4 187.2 L294.3 189.3 L300.9 190.5 L314.1 190.5 L320.7 189.3 L330.5 189.1 L347.0 189.1 L353.6 190.1 L356.9 189.6 L361.8 191.3 L367.6 194.2 L371.7 192.4 L376.6 188.0 L382.4 182.2 L388.1 181.1 L398.0 181.1 L404.6 182.7 L411.2 184.4 L419.4 184.4 L424.4 185.5 L429.3 188.3 L434.2 193.7 L439.2 199.5 L444.1 204.4 L449.1 211.0 L454.0 216.8 L458.9 223.4 L463.9 230.0 L468.0 235.7 L471.3 241.5 L475.4 241.0 L480.0 239.1 L484.9 237.0 L489.9 234.5 L494.8 229.6 L499.8 224.7 L504.7 220.2 L509.6 216.1 L514.6 211.5 L519.5 207.0 L524.4 202.4 L529.4 198.3 L536.0 194.2 L542.6 191.4 L549.1 188.4 L555.7 187.3 L562.3 187.6 L567.2 189.3 L572.2 191.7 L577.1 192.9 L582.1 193.4 L587.0 195.0 L591.6 197.5 L596.9 195.0 L601.8 194.2 L606.7 193.4 L611.7 192.2 L618.3 192.2 L624.9 191.7 L633.1 190.9 L638.0 188.1 L644.6 184.3 L651.2 180.7 L657.8 176.6 L664.4 173.3 L670.9 167.9 L677.5 161.3 L684.1 156.3 L690.7 150.6 L695.6 147.6 L700.6 147.3 L705.5 146.1 L711.3 144.5 L716.2 145.3 L720.0 145.8 L726.6 144.2 L733.2 142.2 L738.1 140.9 L743.0 137.9 L748.0 136.3 L756.2 136.3 L766.1 136.0 L772.7 136.0 L779.3 137.3 L785.8 137.3 L794.1 137.6 L799.0 138.4 L804.0 140.9 L809.7 143.0 L815.5 140.9 L820.4 138.9 L827.0 139.3 L835.2 140.1 L841.8 140.1 L846.7 141.2 L851.7 142.2 L858.3 141.4 L863.2 140.9 L868.1 138.9 L873.1 137.6 L881.3 137.6 L887.9 136.5 L894.5 134.8 L898.6 134.0 L904.4 134.8 L909.3 133.2 L915.9 133.2 L922.5 134.8 L929.1 135.1 L934.0 132.7 L940.6 129.9 L947.2 129.1 L953.7 128.1 L960.0 127.8 L964.9 125.8 L969.9 123.4 L976.5 120.9 L983.0 119.8 L989.6 118.9 L996.2 118.1 L1002.8 117.9 L1012.7 117.9 L1017.6 115.5 L1022.6 114.7 L1029.1 114.3 L1035.7 113.5 L1042.3 113.0 L1048.9 113.0 L1055.5 110.5 L1062.1 106.9 L1068.6 103.1 L1075.2 100.3 L1081.8 98.7 L1084.9 96.8 L1089.9 95.1 L1096.5 95.1 L1101.4 94.2 L1106.3 90.2 L1111.3 87.2 L1116.2 80.7 L1121.2 68.3 L1124.4 62.6 L1127.7 57.6 L1132.7 54.0 L1137.6 54.3 L1143.4 54.7 L1148.3 52.3 L1152.4 43.6 L1155.7 40.3 L1159.8 37.5 L1164.0 38.7 L1167.2 32.9 L1169.7 29.6 L1173.8 29.3 L1178.8 30.5 L1183.7 37.0 L1188.6 46.1 L1191.9 53.5 L1195.2 65.8 L1198.5 79.0 L1201.8 93.8 L1205.1 107.0 L1208.4 121.0 L1211.7 135.0 L1216.6 156.5 L1219.9 171.3 L1223.2 184.4 L1226.5 196.0 L1229.8 207.5 L1233.1 220.7 L1236.4 232.2 L1238.8 242.1 L1241.3 258.5 L1243.8 275.0 L1246.3 289.9 L1248.7 303.0 L1251.2 319.5 L1254.5 326.1 L1258.6 331.0 L1262.7 333.5 L1267.7 334.3 L1270.9 329.4 L1274.2 321.2 L1277.5 314.6 L1281.6 309.6 L1285.8 306.3 L1289.9 304.4 L1294.0 303.9 L1298.9 304.4 L1303.9 306.3 L1307.2 311.3 L1310.5 314.6 L1315.4 312.9" fill="none" stroke="#97449b" stroke-width="1.8" stroke-linejoin="round" stroke-linecap="round"/>
</g>
<g clip-path="url(#c1)"><path d="M0.5 631.5h3V633.5h-3ZM5.5 631.5h3V633.5h-3ZM10.5 631.5h3V633.5h-3ZM15.5 631.5h3V633.5h-3ZM20.5 633.5h4V634.5h-4ZM26.5 633.5h3V634.5h-3ZM31.5 633.5h3V634.5h-3ZM36.5 633.5h3V634.5h-3ZM41.5 633.5h3V634.5h-3ZM46.5 633.5h4V635.5h-4ZM52.5 633.5h3V635.5h-3ZM57.5 633.5h3V635.5h-3ZM62.5 633.5h3V635.5h-3ZM67.5 633.5h3V635.5h-3ZM72.5 633.5h4V635.5h-4ZM78.5 633.5h3V634.5h-3ZM83.5 633.5h3V634.5h-3ZM88.5 633.5h3V634.5h-3ZM93.5 633.5h4V634.5h-4ZM99.5 633.5h3V634.5h-3ZM104.5 633.5h3V634.5h-3ZM109.5 633.5h3V634.5h-3ZM114.5 633.5h3V634.5h-3ZM119.5 633.5h4V634.5h-4ZM125.5 633.5h3V634.5h-3ZM130.5 633.5h3V634.5h-3ZM135.5 633.5h3V634.5h-3ZM140.5 633.5h3V634.5h-3ZM145.5 633.5h4V634.5h-4ZM151.5 633.5h3V634.5h-3ZM156.5 633.5h3V634.5h-3ZM161.5 633.5h3V634.5h-3ZM166.5 633.5h3V634.5h-3ZM171.5 633.5h4V634.5h-4ZM177.5 633.5h3V634.5h-3ZM182.5 633.5h3V634.5h-3ZM187.5 633.5h3V634.5h-3ZM192.5 633.5h3V634.5h-3ZM197.5 633.5h4V634.5h-4ZM203.5 633.5h3V634.5h-3ZM208.5 633.5h3V634.5h-3ZM213.5 633.5h3V634.5h-3ZM218.5 633.5h4V634.5h-4ZM224.5 632.5h3V633.5h-3ZM229.5 632.5h3V633.5h-3ZM234.5 632.5h3V633.5h-3ZM239.5 632.5h3V633.5h-3ZM244.5 631.5h4V633.5h-4ZM250.5 631.5h3V633.5h-3ZM255.5 631.5h3V633.5h-3ZM260.5 631.5h3V633.5h-3ZM265.5 631.5h3V633.5h-3ZM270.5 631.5h4V633.5h-4ZM276.5 633.5h3V634.5h-3ZM281.5 633.5h3V634.5h-3ZM286.5 633.5h3V634.5h-3ZM291.5 633.5h3V634.5h-3ZM296.5 633.5h4V634.5h-4ZM302.5 633.5h3V634.5h-3ZM307.5 633.5h3V634.5h-3ZM312.5 633.5h3V634.5h-3ZM317.5 633.5h4V635.5h-4ZM323.5 633.5h3V635.5h-3ZM328.5 633.5h3V634.5h-3ZM333.5 633.5h3V634.5h-3ZM338.5 633.5h3V634.5h-3ZM343.5 633.5h4V634.5h-4ZM349.5 633.5h3V634.5h-3ZM354.5 633.5h3V634.5h-3ZM359.5 633.5h3V634.5h-3ZM364.5 633.5h3V634.5h-3ZM369.5 633.5h4V634.5h-4ZM375.5 633.5h3V636.5h-3ZM380.5 633.5h3V636.5h-3ZM385.5 633.5h3V636.5h-3ZM390.5 633.5h3V636.5h-3ZM395.5 633.5h4V636.5h-4ZM401.5 633.5h3V636.5h-3ZM406.5 633.5h3V636.5h-3ZM411.5 633.5h3V636.5h-3ZM416.5 633.5h3V636.5h-3ZM421.5 633.5h4V636.5h-4ZM427.5 633.5h3M432.5 632.5h3V633.5h-3ZM437.5 632.5h3V633.5h-3ZM442.5 632.5h4V633.5h-4ZM448.5 632.5h3V633.5h-3ZM453.5 632.5h3V633.5h-3ZM458.5 632.5h3V633.5h-3ZM463.5 632.5h3V633.5h-3ZM468.5 632.5h4V633.5h-4ZM474.5 630.5h3V633.5h-3ZM479.5 630.5h3V633.5h-3ZM484.5 630.5h3V633.5h-3ZM489.5 630.5h3V633.5h-3ZM494.5 630.5h4V633.5h-4ZM500.5 630.5h3V633.5h-3ZM505.5 631.5h3V633.5h-3ZM510.5 631.5h3V633.5h-3ZM515.5 631.5h3V633.5h-3ZM520.5 631.5h4V633.5h-4ZM526.5 631.5h3V633.5h-3ZM531.5 631.5h3V633.5h-3ZM536.5 631.5h3V633.5h-3ZM541.5 631.5h4V633.5h-4ZM547.5 632.5h3V633.5h-3ZM552.5 632.5h3V633.5h-3ZM557.5 632.5h3V633.5h-3ZM562.5 632.5h3V633.5h-3ZM567.5 633.5h4M573.5 633.5h3M578.5 633.5h3M583.5 633.5h3M588.5 633.5h3V635.5h-3ZM593.5 633.5h4V635.5h-4ZM599.5 633.5h3V635.5h-3ZM604.5 633.5h3V635.5h-3ZM609.5 633.5h3V636.5h-3ZM614.5 633.5h3V634.5h-3ZM619.5 633.5h4V634.5h-4ZM625.5 633.5h3M630.5 633.5h3M635.5 631.5h3V633.5h-3ZM640.5 631.5h3V633.5h-3ZM645.5 631.5h4V633.5h-4ZM651.5 631.5h3V633.5h-3ZM656.5 631.5h3V633.5h-3ZM661.5 631.5h3V633.5h-3ZM666.5 631.5h4V633.5h-4ZM672.5 631.5h3V633.5h-3ZM677.5 631.5h3V633.5h-3ZM682.5 632.5h3V633.5h-3ZM687.5 632.5h3V633.5h-3ZM692.5 632.5h4V633.5h-4ZM698.5 632.5h3V633.5h-3ZM703.5 632.5h3V633.5h-3ZM708.5 632.5h3V633.5h-3ZM713.5 631.5h3V633.5h-3ZM718.5 631.5h4V633.5h-4ZM724.5 631.5h3V633.5h-3ZM729.5 631.5h3V633.5h-3ZM734.5 632.5h3V633.5h-3ZM739.5 632.5h3V633.5h-3ZM744.5 632.5h4V633.5h-4ZM750.5 633.5h3M755.5 633.5h3M760.5 633.5h3M765.5 633.5h4V634.5h-4ZM771.5 633.5h3V634.5h-3ZM776.5 633.5h3V634.5h-3ZM781.5 633.5h3V634.5h-3ZM786.5 633.5h3V634.5h-3ZM791.5 633.5h4V634.5h-4ZM797.5 633.5h3V634.5h-3ZM802.5 633.5h3V634.5h-3ZM807.5 633.5h3V634.5h-3ZM812.5 633.5h3V635.5h-3ZM817.5 633.5h4V635.5h-4ZM823.5 633.5h3V635.5h-3ZM828.5 633.5h3V635.5h-3ZM833.5 633.5h3V635.5h-3ZM838.5 633.5h3V634.5h-3ZM843.5 633.5h4V634.5h-4ZM849.5 633.5h3V634.5h-3ZM854.5 633.5h3V634.5h-3ZM859.5 633.5h3M864.5 632.5h3V633.5h-3ZM869.5 632.5h4V633.5h-4ZM875.5 633.5h3M880.5 633.5h3M885.5 633.5h3M890.5 633.5h4M896.5 633.5h3M901.5 633.5h3M906.5 633.5h3M911.5 633.5h3M916.5 633.5h4V634.5h-4ZM922.5 633.5h3V634.5h-3ZM927.5 632.5h3V633.5h-3ZM932.5 632.5h3V633.5h-3ZM937.5 632.5h3V633.5h-3ZM942.5 632.5h4V633.5h-4ZM948.5 632.5h3V633.5h-3ZM953.5 632.5h3V633.5h-3ZM958.5 632.5h3V633.5h-3ZM963.5 632.5h3V633.5h-3ZM968.5 632.5h4V633.5h-4ZM974.5 632.5h3V633.5h-3ZM979.5 632.5h3V633.5h-3ZM984.5 633.5h3M989.5 633.5h3M994.5 633.5h4V634.5h-4ZM1000.5 633.5h3V634.5h-3ZM1005.5 633.5h3V634.5h-3ZM1010.5 633.5h3V636.5h-3ZM1015.5 633.5h4V636.5h-4ZM1021.5 633.5h3V636.5h-3ZM1026.5 633.5h3M1031.5 633.5h3M1036.5 633.5h3M1041.5 633.5h4M1047.5 632.5h3V633.5h-3ZM1052.5 632.5h3V633.5h-3ZM1057.5 632.5h3V633.5h-3ZM1062.5 632.5h3V633.5h-3ZM1067.5 631.5h4V633.5h-4ZM1073.5 631.5h3V633.5h-3ZM1078.5 631.5h3V633.5h-3ZM1083.5 631.5h3V633.5h-3ZM1088.5 632.5h3V633.5h-3ZM1093.5 632.5h4V633.5h-4ZM1099.5 633.5h3V635.5h-3ZM1104.5 633.5h3V638.5h-3ZM1109.5 633.5h3V639.5h-3ZM1114.5 633.5h4V641.5h-4ZM1120.5 633.5h3V643.5h-3ZM1125.5 633.5h3V642.5h-3ZM1130.5 633.5h3V642.5h-3ZM1135.5 633.5h3V642.5h-3ZM1140.5 633.5h4V641.5h-4ZM1146.5 633.5h3V641.5h-3ZM1151.5 633.5h3V643.5h-3ZM1156.5 633.5h3V645.5h-3ZM1161.5 633.5h3V645.5h-3ZM1166.5 633.5h4V648.5h-4ZM1172.5 633.5h3V650.5h-3ZM1177.5 633.5h3V651.5h-3ZM1182.5 633.5h3V650.5h-3ZM1187.5 633.5h3V649.5h-3ZM1192.5 633.5h4V647.5h-4ZM1198.5 633.5h3V644.5h-3ZM1203.5 633.5h3V642.5h-3ZM1208.5 633.5h3V637.5h-3ZM1213.5 631.5h3V633.5h-3ZM1218.5 627.5h4V633.5h-4ZM1224.5 625.5h3V633.5h-3ZM1229.5 624.5h3V633.5h-3ZM1234.5 623.5h3V633.5h-3ZM1239.5 623.5h4V633.5h-4ZM1245.5 624.5h3V633.5h-3ZM1250.5 624.5h3V633.5h-3ZM1255.5 622.5h3V633.5h-3ZM1260.5 621.5h3V633.5h-3ZM1265.5 621.5h4V633.5h-4ZM1271.5 620.5h3V633.5h-3ZM1276.5 620.5h3V633.5h-3ZM1281.5 621.5h3V633.5h-3ZM1286.5 622.5h3V633.5h-3ZM1291.5 623.5h4V633.5h-4ZM1297.5 624.5h3V633.5h-3ZM1302.5 625.5h3V633.5h-3ZM1307.5 626.5h3V633.5h-3ZM1312.5 627.5h3V633.5h-3Z" fill="#d2e3f8" stroke="#9bb8dc" stroke-width="1"/>
<path d="M0.0 624.2 L20.6 626.3 L61.7 630.0 L102.9 632.5 L148.1 636.6 L185.2 633.5 L224.1 630.0 L241.4 629.7 L252.9 627.5 L264.4 626.4 L272.7 626.4 L282.6 627.9 L294.1 629.5 L305.6 630.0 L315.5 631.6 L325.3 632.1 L335.2 631.1 L345.1 631.1 L356.6 632.0 L368.1 633.3 L374.7 636.1 L381.3 639.0 L391.2 641.2 L401.1 642.0 L407.7 641.2 L417.5 643.2 L427.4 643.2 L435.6 642.0 L445.5 640.7 L453.7 640.7 L460.0 640.7 L469.9 639.5 L481.4 635.8 L492.9 633.3 L504.4 630.5 L516.0 628.3 L527.5 626.2 L539.0 625.9 L550.5 624.6 L562.1 625.9 L573.6 627.2 L580.2 628.3 L586.7 627.2 L596.6 629.5 L604.9 631.6 L614.7 633.3 L624.6 632.8 L634.5 630.0 L646.0 627.9 L657.5 626.2 L667.4 625.1 L677.3 624.2 L687.2 623.1 L697.1 623.5 L700.0 623.4 L709.9 623.4 L719.8 622.3 L729.6 621.3 L741.2 621.4 L751.0 622.9 L760.9 623.7 L770.8 624.2 L779.0 625.5 L788.9 626.4 L798.8 626.4 L808.6 627.2 L818.5 628.7 L828.4 630.0 L838.3 630.5 L848.1 631.3 L856.4 631.1 L864.6 629.7 L871.2 629.2 L877.8 630.3 L889.3 630.5 L897.5 629.2 L902.5 630.0 L908.2 629.2 L915.6 630.8 L927.2 631.1 L935.4 630.5 L940.0 629.5 L949.9 629.5 L959.8 629.2 L969.6 628.3 L981.2 628.3 L987.7 629.2 L992.7 628.3 L1000.9 630.0 L1009.1 631.6 L1015.7 633.3 L1022.3 635.4 L1028.9 634.1 L1037.1 632.8 L1047.0 631.6 L1055.2 630.5 L1065.1 628.7 L1075.0 627.5 L1084.9 627.2 L1093.1 627.5 L1097.2 629.5 L1100.0 630.4 L1104.9 634.2 L1111.5 637.5 L1116.5 641.6 L1121.4 645.7 L1128.0 649.0 L1132.9 650.7 L1137.9 651.5 L1142.8 653.2 L1147.7 655.1 L1152.7 659.7 L1157.6 663.9 L1163.4 668.0 L1169.1 675.4 L1174.1 680.8 L1179.8 686.9 L1184.8 688.5 L1190.5 692.7 L1197.1 693.5 L1204.5 692.7 L1209.5 689.0 L1215.2 683.1 L1221.8 676.2 L1228.4 672.1 L1235.0 668.0 L1239.9 665.5 L1244.9 664.2 L1251.4 661.9 L1258.0 657.3 L1264.6 652.3 L1271.2 647.4 L1277.8 642.9 L1282.7 641.3 L1289.3 639.7 L1294.2 637.5 L1299.2 635.5 L1305.8 635.0 L1310.7 634.2 L1315.3 633.4" fill="none" stroke="#0a12fa" stroke-width="2" stroke-linejoin="round" stroke-linecap="round"/>
<path d="M0.0 625.3 L41.2 627.3 L82.3 630.8 L123.5 633.5 L148.1 635.5 L185.2 634.1 L224.1 630.8 L241.4 630.5 L252.9 628.8 L264.4 627.9 L272.7 627.2 L282.6 627.5 L294.1 628.7 L305.6 629.2 L315.5 630.0 L325.3 630.8 L335.2 631.1 L345.1 630.8 L356.6 631.6 L368.1 632.1 L374.7 633.0 L381.3 634.9 L391.2 637.4 L401.1 639.5 L407.7 640.7 L417.5 641.2 L427.4 642.0 L435.6 642.0 L445.5 641.5 L453.7 641.0 L460.0 640.4 L469.9 640.4 L481.4 637.7 L492.9 636.1 L504.4 633.3 L516.0 631.1 L527.5 629.2 L539.0 627.9 L550.5 626.7 L562.1 626.7 L573.6 627.2 L580.2 627.5 L586.7 627.5 L596.6 628.3 L604.9 629.5 L614.7 631.1 L624.6 632.0 L634.5 631.1 L646.0 629.5 L657.5 627.9 L667.4 626.7 L677.3 625.5 L687.2 624.6 L697.1 624.6 L700.0 624.2 L709.9 623.9 L719.8 623.4 L729.6 622.6 L741.2 622.1 L751.0 622.6 L760.9 622.9 L770.8 623.4 L779.0 624.2 L788.9 624.7 L798.8 625.4 L808.6 625.9 L818.5 627.2 L828.4 628.3 L838.3 629.2 L848.1 630.0 L856.4 630.5 L864.6 630.5 L871.2 630.0 L877.8 630.3 L889.3 630.5 L897.5 630.0 L902.5 630.0 L908.2 629.7 L915.6 630.3 L927.2 630.8 L935.4 630.8 L940.0 630.3 L949.9 630.0 L959.8 629.5 L969.6 629.2 L981.2 628.8 L987.7 628.8 L992.7 628.7 L1000.9 629.2 L1009.1 630.0 L1015.7 631.1 L1022.3 632.5 L1028.9 632.8 L1037.1 632.8 L1047.0 632.1 L1055.2 631.6 L1065.1 630.5 L1075.0 629.2 L1084.9 628.3 L1093.1 627.9 L1097.2 628.2 L1100.0 628.5 L1106.6 630.1 L1111.5 630.9 L1116.5 633.4 L1121.4 635.9 L1126.3 638.8 L1132.9 641.3 L1139.5 643.6 L1146.1 646.9 L1152.7 649.5 L1159.3 653.2 L1165.8 657.3 L1172.4 663.0 L1179.0 668.0 L1185.6 672.6 L1190.5 676.2 L1195.5 679.8 L1202.1 682.8 L1208.6 684.9 L1215.2 684.9 L1221.8 683.6 L1228.4 681.1 L1235.0 677.8 L1241.6 675.4 L1248.1 671.8 L1253.1 669.9 L1258.0 668.3 L1264.6 664.3 L1271.2 660.1 L1277.8 656.1 L1284.4 652.7 L1289.3 649.9 L1294.2 647.7 L1299.2 644.9 L1304.1 642.8 L1310.7 641.3 L1315.3 639.7" fill="none" stroke="#0892ff" stroke-width="2" stroke-linejoin="round" stroke-linecap="round"/></g>
<g clip-path="url(#c2)"><path d="M0 719.5H1385" stroke="#a0d870" stroke-width="1" stroke-dasharray="2 2" fill="none"/>
<path d="M0 764.5H1385" stroke="#f49a9a" stroke-width="1" stroke-dasharray="2 2" fill="none"/>
<defs><clipPath id="kt"><rect x="0" y="700" width="1388" height="20.0"/></clipPath><clipPath id="kb"><rect x="0" y="764.0" width="1388" height="20"/></clipPath></defs>
<path d="M0.0 709.8 L5.0 710.5 L17.6 711.7 L26.4 717.6 L32.8 722.3 L37.5 722.0 L41.0 722.3 L44.0 726.0 L48.6 735.2 L54.5 742.9 L60.4 752.0 L65.8 759.7 L70.8 767.1 L75.7 761.4 L80.7 754.0 L85.6 740.8 L91.4 731.7 L97.1 726.8 L101.7 723.5 L107.0 729.3 L111.9 741.6 L117.2 750.3 L122.6 748.2 L127.6 753.1 L132.5 760.6 L138.3 758.1 L143.2 759.7 L148.1 762.2 L153.1 754.0 L158.4 741.6 L163.8 735.0 L168.7 724.3 L174.5 716.4 L179.4 720.2 L186.0 721.0 L190.9 725.2 L195.9 734.5 L200.8 733.4 L205.8 730.1 L210.7 730.1 L215.6 726.0 L220.9 719.4 L225.5 731.7 L230.5 740.8 L237.0 748.2 L240.0 746.6 L246.6 744.1 L252.3 732.6 L258.1 721.0 L263.4 713.6 L268.8 721.0 L273.7 728.5 L278.7 735.9 L284.4 749.0 L289.4 760.6 L294.7 767.1 L299.3 764.7 L305.0 756.4 L310.0 754.0 L314.9 752.3 L320.7 749.4 L325.6 750.3 L329.7 749.9 L335.5 739.2 L341.2 736.7 L347.0 733.1 L351.9 733.4 L356.9 745.7 L362.1 755.6 L367.6 756.4 L372.5 763.8 L377.9 768.8 L383.2 769.6 L388.1 769.6 L393.1 767.1 L398.0 762.2 L403.0 755.6 L408.2 746.6 L414.5 747.4 L419.8 752.0 L425.2 750.7 L430.1 745.7 L435.1 743.3 L440.0 731.7 L445.3 723.8 L450.7 730.9 L455.6 737.5 L461.4 740.0 L466.8 746.2 L472.1 743.3 L477.0 730.1 L480.0 724.3 L486.6 720.2 L492.3 713.6 L498.1 714.5 L504.7 712.8 L512.9 710.3 L519.5 710.3 L527.7 711.5 L532.7 715.3 L538.4 723.5 L544.2 730.9 L550.0 731.4 L554.9 733.4 L559.8 736.7 L564.8 739.2 L570.5 742.4 L576.3 747.4 L580.4 749.0 L586.2 740.5 L591.6 737.5 L596.9 740.8 L601.8 744.1 L607.6 753.1 L613.0 763.3 L618.3 758.9 L622.4 746.6 L627.3 734.2 L633.1 724.3 L638.0 714.5 L643.5 709.5 L649.5 712.0 L654.5 717.8 L659.4 720.2 L664.4 722.7 L669.3 724.0 L674.2 722.7 L680.0 717.8 L684.9 716.4 L690.4 714.5 L695.6 720.2 L700.6 726.0 L705.5 728.1 L710.5 727.6 L716.2 726.0 L720.0 721.0 L726.6 710.3 L731.5 711.2 L737.3 717.8 L742.2 719.4 L747.2 725.2 L752.6 736.4 L757.9 738.3 L763.1 739.2 L768.6 747.1 L773.5 750.3 L778.4 750.7 L783.9 753.5 L789.1 749.9 L794.1 742.4 L799.0 734.2 L804.3 729.3 L810.2 727.6 L815.5 737.5 L820.4 745.7 L825.3 751.5 L830.6 757.3 L836.0 755.6 L841.8 744.9 L846.7 738.3 L851.7 733.4 L856.6 726.8 L861.6 724.3 L867.3 719.4 L872.3 719.4 L877.2 726.8 L882.6 735.5 L887.9 736.7 L893.7 741.3 L898.6 739.2 L902.7 737.5 L908.5 729.6 L914.2 733.4 L919.2 737.5 L924.6 741.1 L929.1 736.7 L934.8 734.7 L939.8 726.8 L945.5 720.2 L950.5 716.9 L955.4 722.7 L960.0 728.5 L962.5 731.7 L966.6 732.6 L971.5 729.3 L976.5 727.3 L981.4 725.7 L987.2 730.1 L992.6 730.9 L997.0 744.9 L1002.5 754.8 L1007.7 756.4 L1012.7 754.8 L1018.4 766.0 L1023.9 763.0 L1029.1 756.4 L1034.1 748.2 L1039.0 736.7 L1044.3 722.7 L1049.7 715.3 L1054.7 713.6 L1060.4 713.6 L1067.0 713.1 L1074.9 710.3 L1081.0 716.1 L1086.7 716.4 L1091.7 730.1 L1096.6 739.2 L1101.6 751.5 L1107.3 760.2 L1112.3 769.3 L1117.2 768.5 L1123.0 770.4 L1127.9 768.8 L1132.8 764.7 L1138.6 761.4 L1143.5 755.6 L1148.5 755.6 L1154.2 757.8 L1159.2 761.4 L1164.1 768.0 L1169.5 775.4 L1174.8 776.5 L1179.8 773.4 L1184.7 770.4 L1190.5 769.3 L1195.4 766.3 L1200.3 757.3 L1205.3 752.3 L1211.0 741.6 L1216.0 730.9 L1221.2 719.4 L1226.7 720.2 L1231.6 717.4 L1237.4 721.0 L1242.3 731.7 L1247.2 740.5 L1252.5 748.2 L1257.9 743.3 L1263.4 742.4 L1268.6 732.6 L1273.6 723.5 L1278.5 714.5 L1283.5 725.2 L1289.2 736.4 L1294.2 738.3 L1299.9 740.8 L1304.9 753.5 L1310.6 750.7 L1315.2 744.9 L1315.2 720.0 L0.0 720.0Z" fill="#8ccc5a" clip-path="url(#kt)"/>
<path d="M0.0 709.8 L5.0 710.5 L17.6 711.7 L26.4 717.6 L32.8 722.3 L37.5 722.0 L41.0 722.3 L44.0 726.0 L48.6 735.2 L54.5 742.9 L60.4 752.0 L65.8 759.7 L70.8 767.1 L75.7 761.4 L80.7 754.0 L85.6 740.8 L91.4 731.7 L97.1 726.8 L101.7 723.5 L107.0 729.3 L111.9 741.6 L117.2 750.3 L122.6 748.2 L127.6 753.1 L132.5 760.6 L138.3 758.1 L143.2 759.7 L148.1 762.2 L153.1 754.0 L158.4 741.6 L163.8 735.0 L168.7 724.3 L174.5 716.4 L179.4 720.2 L186.0 721.0 L190.9 725.2 L195.9 734.5 L200.8 733.4 L205.8 730.1 L210.7 730.1 L215.6 726.0 L220.9 719.4 L225.5 731.7 L230.5 740.8 L237.0 748.2 L240.0 746.6 L246.6 744.1 L252.3 732.6 L258.1 721.0 L263.4 713.6 L268.8 721.0 L273.7 728.5 L278.7 735.9 L284.4 749.0 L289.4 760.6 L294.7 767.1 L299.3 764.7 L305.0 756.4 L310.0 754.0 L314.9 752.3 L320.7 749.4 L325.6 750.3 L329.7 749.9 L335.5 739.2 L341.2 736.7 L347.0 733.1 L351.9 733.4 L356.9 745.7 L362.1 755.6 L367.6 756.4 L372.5 763.8 L377.9 768.8 L383.2 769.6 L388.1 769.6 L393.1 767.1 L398.0 762.2 L403.0 755.6 L408.2 746.6 L414.5 747.4 L419.8 752.0 L425.2 750.7 L430.1 745.7 L435.1 743.3 L440.0 731.7 L445.3 723.8 L450.7 730.9 L455.6 737.5 L461.4 740.0 L466.8 746.2 L472.1 743.3 L477.0 730.1 L480.0 724.3 L486.6 720.2 L492.3 713.6 L498.1 714.5 L504.7 712.8 L512.9 710.3 L519.5 710.3 L527.7 711.5 L532.7 715.3 L538.4 723.5 L544.2 730.9 L550.0 731.4 L554.9 733.4 L559.8 736.7 L564.8 739.2 L570.5 742.4 L576.3 747.4 L580.4 749.0 L586.2 740.5 L591.6 737.5 L596.9 740.8 L601.8 744.1 L607.6 753.1 L613.0 763.3 L618.3 758.9 L622.4 746.6 L627.3 734.2 L633.1 724.3 L638.0 714.5 L643.5 709.5 L649.5 712.0 L654.5 717.8 L659.4 720.2 L664.4 722.7 L669.3 724.0 L674.2 722.7 L680.0 717.8 L684.9 716.4 L690.4 714.5 L695.6 720.2 L700.6 726.0 L705.5 728.1 L710.5 727.6 L716.2 726.0 L720.0 721.0 L726.6 710.3 L731.5 711.2 L737.3 717.8 L742.2 719.4 L747.2 725.2 L752.6 736.4 L757.9 738.3 L763.1 739.2 L768.6 747.1 L773.5 750.3 L778.4 750.7 L783.9 753.5 L789.1 749.9 L794.1 742.4 L799.0 734.2 L804.3 729.3 L810.2 727.6 L815.5 737.5 L820.4 745.7 L825.3 751.5 L830.6 757.3 L836.0 755.6 L841.8 744.9 L846.7 738.3 L851.7 733.4 L856.6 726.8 L861.6 724.3 L867.3 719.4 L872.3 719.4 L877.2 726.8 L882.6 735.5 L887.9 736.7 L893.7 741.3 L898.6 739.2 L902.7 737.5 L908.5 729.6 L914.2 733.4 L919.2 737.5 L924.6 741.1 L929.1 736.7 L934.8 734.7 L939.8 726.8 L945.5 720.2 L950.5 716.9 L955.4 722.7 L960.0 728.5 L962.5 731.7 L966.6 732.6 L971.5 729.3 L976.5 727.3 L981.4 725.7 L987.2 730.1 L992.6 730.9 L997.0 744.9 L1002.5 754.8 L1007.7 756.4 L1012.7 754.8 L1018.4 766.0 L1023.9 763.0 L1029.1 756.4 L1034.1 748.2 L1039.0 736.7 L1044.3 722.7 L1049.7 715.3 L1054.7 713.6 L1060.4 713.6 L1067.0 713.1 L1074.9 710.3 L1081.0 716.1 L1086.7 716.4 L1091.7 730.1 L1096.6 739.2 L1101.6 751.5 L1107.3 760.2 L1112.3 769.3 L1117.2 768.5 L1123.0 770.4 L1127.9 768.8 L1132.8 764.7 L1138.6 761.4 L1143.5 755.6 L1148.5 755.6 L1154.2 757.8 L1159.2 761.4 L1164.1 768.0 L1169.5 775.4 L1174.8 776.5 L1179.8 773.4 L1184.7 770.4 L1190.5 769.3 L1195.4 766.3 L1200.3 757.3 L1205.3 752.3 L1211.0 741.6 L1216.0 730.9 L1221.2 719.4 L1226.7 720.2 L1231.6 717.4 L1237.4 721.0 L1242.3 731.7 L1247.2 740.5 L1252.5 748.2 L1257.9 743.3 L1263.4 742.4 L1268.6 732.6 L1273.6 723.5 L1278.5 714.5 L1283.5 725.2 L1289.2 736.4 L1294.2 738.3 L1299.9 740.8 L1304.9 753.5 L1310.6 750.7 L1315.2 744.9 L1315.2 764.0 L0.0 764.0Z" fill="#f08282" clip-path="url(#kb)"/>
<path d="M0.0 709.8 L5.0 710.5 L17.6 711.7 L26.4 717.6 L32.8 722.3 L37.5 722.0 L41.0 722.3 L44.0 726.0 L48.6 735.2 L54.5 742.9 L60.4 752.0 L65.8 759.7 L70.8 767.1 L75.7 761.4 L80.7 754.0 L85.6 740.8 L91.4 731.7 L97.1 726.8 L101.7 723.5 L107.0 729.3 L111.9 741.6 L117.2 750.3 L122.6 748.2 L127.6 753.1 L132.5 760.6 L138.3 758.1 L143.2 759.7 L148.1 762.2 L153.1 754.0 L158.4 741.6 L163.8 735.0 L168.7 724.3 L174.5 716.4 L179.4 720.2 L186.0 721.0 L190.9 725.2 L195.9 734.5 L200.8 733.4 L205.8 730.1 L210.7 730.1 L215.6 726.0 L220.9 719.4 L225.5 731.7 L230.5 740.8 L237.0 748.2 L240.0 746.6 L246.6 744.1 L252.3 732.6 L258.1 721.0 L263.4 713.6 L268.8 721.0 L273.7 728.5 L278.7 735.9 L284.4 749.0 L289.4 760.6 L294.7 767.1 L299.3 764.7 L305.0 756.4 L310.0 754.0 L314.9 752.3 L320.7 749.4 L325.6 750.3 L329.7 749.9 L335.5 739.2 L341.2 736.7 L347.0 733.1 L351.9 733.4 L356.9 745.7 L362.1 755.6 L367.6 756.4 L372.5 763.8 L377.9 768.8 L383.2 769.6 L388.1 769.6 L393.1 767.1 L398.0 762.2 L403.0 755.6 L408.2 746.6 L414.5 747.4 L419.8 752.0 L425.2 750.7 L430.1 745.7 L435.1 743.3 L440.0 731.7 L445.3 723.8 L450.7 730.9 L455.6 737.5 L461.4 740.0 L466.8 746.2 L472.1 743.3 L477.0 730.1 L480.0 724.3 L486.6 720.2 L492.3 713.6 L498.1 714.5 L504.7 712.8 L512.9 710.3 L519.5 710.3 L527.7 711.5 L532.7 715.3 L538.4 723.5 L544.2 730.9 L550.0 731.4 L554.9 733.4 L559.8 736.7 L564.8 739.2 L570.5 742.4 L576.3 747.4 L580.4 749.0 L586.2 740.5 L591.6 737.5 L596.9 740.8 L601.8 744.1 L607.6 753.1 L613.0 763.3 L618.3 758.9 L622.4 746.6 L627.3 734.2 L633.1 724.3 L638.0 714.5 L643.5 709.5 L649.5 712.0 L654.5 717.8 L659.4 720.2 L664.4 722.7 L669.3 724.0 L674.2 722.7 L680.0 717.8 L684.9 716.4 L690.4 714.5 L695.6 720.2 L700.6 726.0 L705.5 728.1 L710.5 727.6 L716.2 726.0 L720.0 721.0 L726.6 710.3 L731.5 711.2 L737.3 717.8 L742.2 719.4 L747.2 725.2 L752.6 736.4 L757.9 738.3 L763.1 739.2 L768.6 747.1 L773.5 750.3 L778.4 750.7 L783.9 753.5 L789.1 749.9 L794.1 742.4 L799.0 734.2 L804.3 729.3 L810.2 727.6 L815.5 737.5 L820.4 745.7 L825.3 751.5 L830.6 757.3 L836.0 755.6 L841.8 744.9 L846.7 738.3 L851.7 733.4 L856.6 726.8 L861.6 724.3 L867.3 719.4 L872.3 719.4 L877.2 726.8 L882.6 735.5 L887.9 736.7 L893.7 741.3 L898.6 739.2 L902.7 737.5 L908.5 729.6 L914.2 733.4 L919.2 737.5 L924.6 741.1 L929.1 736.7 L934.8 734.7 L939.8 726.8 L945.5 720.2 L950.5 716.9 L955.4 722.7 L960.0 728.5 L962.5 731.7 L966.6 732.6 L971.5 729.3 L976.5 727.3 L981.4 725.7 L987.2 730.1 L992.6 730.9 L997.0 744.9 L1002.5 754.8 L1007.7 756.4 L1012.7 754.8 L1018.4 766.0 L1023.9 763.0 L1029.1 756.4 L1034.1 748.2 L1039.0 736.7 L1044.3 722.7 L1049.7 715.3 L1054.7 713.6 L1060.4 713.6 L1067.0 713.1 L1074.9 710.3 L1081.0 716.1 L1086.7 716.4 L1091.7 730.1 L1096.6 739.2 L1101.6 751.5 L1107.3 760.2 L1112.3 769.3 L1117.2 768.5 L1123.0 770.4 L1127.9 768.8 L1132.8 764.7 L1138.6 761.4 L1143.5 755.6 L1148.5 755.6 L1154.2 757.8 L1159.2 761.4 L1164.1 768.0 L1169.5 775.4 L1174.8 776.5 L1179.8 773.4 L1184.7 770.4 L1190.5 769.3 L1195.4 766.3 L1200.3 757.3 L1205.3 752.3 L1211.0 741.6 L1216.0 730.9 L1221.2 719.4 L1226.7 720.2 L1231.6 717.4 L1237.4 721.0 L1242.3 731.7 L1247.2 740.5 L1252.5 748.2 L1257.9 743.3 L1263.4 742.4 L1268.6 732.6 L1273.6 723.5 L1278.5 714.5 L1283.5 725.2 L1289.2 736.4 L1294.2 738.3 L1299.9 740.8 L1304.9 753.5 L1310.6 750.7 L1315.2 744.9" fill="none" stroke="#0a12fa" stroke-width="2" stroke-linejoin="round" stroke-linecap="round"/>
<path d="M0.0 717.0 L2.0 711.5 L5.0 711.0 L15.0 712.0 L23.0 716.0 L30.0 719.5 L35.0 721.5 L40.0 722.0 L44.5 722.3 L50.4 727.6 L58.6 743.4 L66.2 752.0 L69.1 758.1 L74.1 763.8 L79.8 761.4 L85.6 750.7 L92.2 739.2 L98.8 729.3 L102.9 726.8 L107.0 727.3 L111.9 733.4 L116.9 740.8 L121.8 747.1 L126.7 750.3 L133.3 755.6 L139.9 758.1 L144.9 759.7 L149.8 760.6 L154.7 757.3 L159.7 750.7 L164.6 742.4 L169.5 732.6 L174.5 723.5 L179.4 719.1 L184.4 718.6 L190.1 721.9 L195.9 727.6 L200.8 730.9 L205.8 732.2 L210.7 731.7 L215.6 730.1 L220.6 726.0 L225.5 725.2 L230.5 730.9 L235.4 738.3 L240.0 742.4 L243.3 745.7 L247.4 746.2 L253.2 740.8 L258.1 732.6 L263.9 722.7 L268.8 719.4 L273.7 720.2 L278.7 727.6 L284.4 739.2 L289.4 749.9 L294.7 759.7 L299.3 764.2 L303.4 763.8 L309.1 758.9 L314.9 754.8 L320.7 752.3 L325.6 750.7 L330.5 749.9 L337.1 744.9 L342.9 739.2 L347.8 735.5 L352.8 735.0 L357.7 739.2 L362.6 745.7 L367.6 753.1 L373.3 759.7 L379.1 764.7 L384.9 768.5 L389.8 769.6 L394.7 768.0 L399.7 764.7 L404.6 759.7 L409.5 754.0 L415.3 749.0 L420.2 748.7 L425.2 750.3 L430.1 749.0 L435.1 746.2 L440.0 740.5 L445.3 733.4 L450.7 728.5 L455.6 730.1 L461.4 735.0 L466.8 741.1 L472.1 742.4 L477.0 739.2 L480.0 735.0 L485.8 726.8 L491.5 719.4 L497.3 716.1 L504.7 714.1 L512.9 712.8 L519.5 711.5 L527.7 711.2 L532.7 712.5 L538.4 718.6 L544.2 725.2 L550.0 729.3 L554.9 732.1 L559.8 733.4 L564.8 736.2 L570.5 740.0 L576.3 744.4 L581.2 746.6 L586.2 745.7 L591.9 742.4 L596.9 740.0 L601.8 741.1 L607.6 746.6 L613.0 753.1 L618.3 756.9 L622.4 755.9 L627.3 746.6 L633.1 735.0 L638.0 725.2 L643.5 716.4 L648.7 712.0 L653.7 712.8 L659.4 716.9 L664.4 720.7 L669.3 722.7 L674.2 723.2 L680.0 721.0 L684.9 718.6 L690.4 716.1 L695.6 716.1 L700.6 720.2 L705.5 724.3 L710.5 727.3 L716.2 727.1 L720.0 725.2 L726.6 718.6 L732.3 713.6 L737.3 713.6 L742.2 716.4 L747.2 721.9 L752.6 727.6 L757.9 733.4 L763.1 737.5 L768.6 741.1 L773.5 745.7 L778.4 749.4 L783.9 751.5 L789.1 751.5 L794.1 749.9 L799.0 743.3 L804.3 735.9 L810.2 730.6 L815.5 730.9 L820.4 737.5 L825.3 744.9 L830.6 751.5 L836.0 754.5 L841.8 752.3 L846.7 746.6 L851.7 739.2 L856.6 733.4 L861.6 728.5 L867.3 723.5 L872.3 721.0 L877.2 721.5 L882.6 727.3 L887.9 731.7 L893.7 737.5 L898.6 739.2 L902.7 739.2 L908.5 735.9 L914.2 733.4 L919.2 733.4 L924.6 737.5 L929.1 738.3 L934.8 737.5 L939.8 732.6 L945.5 726.0 L950.5 721.0 L955.4 719.4 L960.0 722.7 L964.9 727.6 L970.7 730.9 L976.5 729.3 L981.4 727.6 L987.2 727.6 L992.6 728.5 L997.0 735.9 L1002.5 744.1 L1007.7 751.5 L1012.7 754.8 L1018.4 758.9 L1023.9 761.4 L1029.1 762.2 L1034.1 756.4 L1039.0 748.2 L1044.3 736.7 L1049.7 725.2 L1054.7 717.8 L1060.4 714.5 L1067.0 713.6 L1074.9 712.8 L1081.0 713.3 L1086.7 714.5 L1091.7 721.0 L1096.6 729.3 L1101.6 740.8 L1107.3 751.5 L1112.3 760.2 L1117.2 765.5 L1123.0 769.1 L1127.9 769.6 L1132.8 768.0 L1138.6 765.2 L1143.5 760.6 L1148.5 757.3 L1154.2 756.4 L1159.2 758.6 L1164.9 763.0 L1169.9 769.1 L1174.8 773.7 L1179.8 775.0 L1184.7 773.4 L1190.5 771.3 L1195.4 768.8 L1200.3 764.7 L1205.3 758.9 L1211.0 751.5 L1216.0 742.4 L1221.2 731.7 L1226.7 724.0 L1231.6 719.4 L1237.4 719.4 L1242.3 723.5 L1247.2 731.7 L1252.5 740.5 L1257.9 744.1 L1263.4 744.6 L1268.6 740.0 L1273.6 732.6 L1278.5 723.5 L1283.5 721.9 L1289.2 725.2 L1294.2 733.1 L1299.9 738.3 L1304.9 743.3 L1310.6 747.1 L1315.2 749.0" fill="none" stroke="#0892ff" stroke-width="2" stroke-linejoin="round" stroke-linecap="round"/></g>
<g clip-path="url(#c3)"><path d="M0.5 865.5h3V890h-3ZM5.5 851.5h3V890h-3ZM15.5 863.5h3V890h-3ZM20.5 870.5h4V890h-4ZM26.5 864.5h3V890h-3ZM36.5 864.5h3V890h-3ZM41.5 860.5h3V890h-3ZM52.5 853.5h3V890h-3ZM72.5 858.5h4V890h-4ZM78.5 854.5h3V890h-3ZM83.5 857.5h3V890h-3ZM99.5 864.5h3V890h-3ZM104.5 863.5h3V890h-3ZM135.5 877.5h3V890h-3ZM145.5 864.5h4V890h-4ZM151.5 859.5h3V890h-3ZM166.5 867.5h3V890h-3ZM171.5 862.5h4V890h-4ZM177.5 870.5h3V890h-3ZM182.5 870.5h3V890h-3ZM197.5 852.5h4V890h-4ZM224.5 870.5h3V890h-3ZM229.5 867.5h3V890h-3ZM239.5 860.5h3V890h-3ZM255.5 869.5h3V890h-3ZM270.5 871.5h4V890h-4ZM291.5 867.5h3V890h-3ZM296.5 871.5h4V890h-4ZM302.5 869.5h3V890h-3ZM312.5 866.5h3V890h-3ZM323.5 872.5h3V890h-3ZM328.5 858.5h3V890h-3ZM333.5 864.5h3V890h-3ZM343.5 869.5h4V890h-4ZM349.5 872.5h3V890h-3ZM359.5 867.5h3V890h-3ZM364.5 862.5h3V890h-3ZM385.5 860.5h3V890h-3ZM390.5 861.5h3V890h-3ZM406.5 858.5h3V890h-3ZM421.5 865.5h4V890h-4ZM427.5 870.5h3V890h-3ZM437.5 873.5h3V890h-3ZM453.5 876.5h3V890h-3ZM458.5 869.5h3V890h-3ZM468.5 871.5h4V890h-4ZM474.5 866.5h3V890h-3ZM479.5 878.5h3V890h-3ZM494.5 865.5h4V890h-4ZM500.5 868.5h3V890h-3ZM505.5 870.5h3V890h-3ZM510.5 860.5h3V890h-3ZM515.5 867.5h3V890h-3ZM520.5 860.5h4V890h-4ZM526.5 865.5h3V890h-3ZM536.5 869.5h3V890h-3ZM541.5 870.5h4V890h-4ZM547.5 865.5h3V890h-3ZM552.5 819.5h3V890h-3ZM573.5 868.5h3V890h-3ZM578.5 871.5h3V890h-3ZM583.5 869.5h3V890h-3ZM599.5 862.5h3V890h-3ZM604.5 871.5h3V890h-3ZM614.5 869.5h3V890h-3ZM619.5 863.5h4V890h-4ZM625.5 856.5h3V890h-3ZM630.5 872.5h3V890h-3ZM635.5 853.5h3V890h-3ZM640.5 858.5h3V890h-3ZM656.5 863.5h3V890h-3ZM666.5 865.5h4V890h-4ZM672.5 862.5h3V890h-3ZM677.5 869.5h3V890h-3ZM682.5 867.5h3V890h-3ZM703.5 870.5h3V890h-3ZM708.5 859.5h3V890h-3ZM713.5 860.5h3V890h-3ZM718.5 862.5h4V890h-4ZM724.5 855.5h3V890h-3ZM734.5 867.5h3V890h-3ZM739.5 865.5h3V890h-3ZM771.5 867.5h3V890h-3ZM776.5 864.5h3V890h-3ZM781.5 865.5h3V890h-3ZM807.5 869.5h3V890h-3ZM823.5 868.5h3V890h-3ZM833.5 869.5h3V890h-3ZM843.5 863.5h4V890h-4ZM849.5 866.5h3V890h-3ZM854.5 864.5h3V890h-3ZM864.5 868.5h3V890h-3ZM885.5 827.5h3V890h-3ZM906.5 868.5h3V890h-3ZM916.5 868.5h4V890h-4ZM922.5 867.5h3V890h-3ZM927.5 866.5h3V890h-3ZM932.5 862.5h3V890h-3ZM948.5 866.5h3V890h-3ZM963.5 859.5h3V890h-3ZM968.5 875.5h4V890h-4ZM974.5 870.5h3V890h-3ZM989.5 860.5h3V890h-3ZM1000.5 859.5h3V890h-3ZM1005.5 869.5h3V890h-3ZM1021.5 863.5h3V890h-3ZM1026.5 863.5h3V890h-3ZM1031.5 854.5h3V890h-3ZM1036.5 861.5h3V890h-3ZM1047.5 872.5h3V890h-3ZM1052.5 859.5h3V890h-3ZM1057.5 865.5h3V890h-3ZM1062.5 860.5h3V890h-3ZM1073.5 872.5h3V890h-3ZM1078.5 864.5h3V890h-3ZM1083.5 864.5h3V890h-3ZM1109.5 832.5h3V890h-3ZM1135.5 845.5h3V890h-3ZM1177.5 814.5h3V890h-3ZM1192.5 841.5h4V890h-4ZM1203.5 843.5h3V890h-3ZM1208.5 836.5h3V890h-3ZM1218.5 848.5h4V890h-4ZM1229.5 859.5h3V890h-3ZM1255.5 857.5h3V890h-3ZM1265.5 863.5h4V890h-4ZM1271.5 851.5h3V890h-3ZM1291.5 848.5h4V890h-4ZM1307.5 864.5h3V890h-3ZM1312.5 861.5h3V890h-3Z" fill="#c0c0c0" stroke="#999" stroke-width="1"/>
<path d="M10 859h4V890h-4ZM31 858h4V890h-4ZM46 855h5V890h-5ZM57 854h4V890h-4ZM62 852h4V890h-4ZM67 857h4V890h-4ZM88 856h4V890h-4ZM93 861h5V890h-5ZM109 856h4V890h-4ZM114 867h4V890h-4ZM119 879h5V890h-5ZM125 858h4V890h-4ZM130 863h4V890h-4ZM140 858h4V890h-4ZM156 867h4V890h-4ZM161 867h4V890h-4ZM187 872h4V890h-4ZM192 871h4V890h-4ZM203 862h4V890h-4ZM208 865h4V890h-4ZM213 822h4V890h-4ZM218 866h5V890h-5ZM234 865h4V890h-4ZM244 863h5V890h-5ZM250 868h4V890h-4ZM260 876h4V890h-4ZM265 869h4V890h-4ZM276 860h4V890h-4ZM281 869h4V890h-4ZM286 868h4V890h-4ZM307 869h4V890h-4ZM317 864h5V890h-5ZM338 855h4V890h-4ZM354 857h4V890h-4ZM369 845h5V890h-5ZM375 854h4V890h-4ZM380 863h4V890h-4ZM395 858h5V890h-5ZM401 873h4V890h-4ZM411 862h4V890h-4ZM416 861h4V890h-4ZM432 872h4V890h-4ZM442 871h5V890h-5ZM448 865h4V890h-4ZM463 874h4V890h-4ZM484 873h4V890h-4ZM489 872h4V890h-4ZM531 868h4V890h-4ZM557 868h4V890h-4ZM562 872h4V890h-4ZM567 869h5V890h-5ZM588 866h4V890h-4ZM593 859h5V890h-5ZM609 867h4V890h-4ZM645 857h5V890h-5ZM651 857h4V890h-4ZM661 864h4V890h-4ZM687 866h4V890h-4ZM692 864h5V890h-5ZM698 859h4V890h-4ZM729 858h4V890h-4ZM744 867h5V890h-5ZM750 863h4V890h-4ZM755 862h4V890h-4ZM760 867h4V890h-4ZM765 866h5V890h-5ZM786 872h4V890h-4ZM791 860h5V890h-5ZM797 870h4V890h-4ZM802 879h4V890h-4ZM812 856h4V890h-4ZM817 863h5V890h-5ZM828 872h4V890h-4ZM838 874h4V890h-4ZM859 852h4V890h-4ZM869 861h5V890h-5ZM875 866h4V890h-4ZM880 861h4V890h-4ZM890 873h5V890h-5ZM896 876h4V890h-4ZM901 881h4V890h-4ZM911 867h4V890h-4ZM937 866h4V890h-4ZM942 869h5V890h-5ZM953 866h4V890h-4ZM958 865h4V890h-4ZM979 864h4V890h-4ZM984 863h4V890h-4ZM994 854h5V890h-5ZM1010 861h4V890h-4ZM1015 856h5V890h-5ZM1041 865h5V890h-5ZM1067 868h5V890h-5ZM1088 862h4V890h-4ZM1093 853h5V890h-5ZM1099 836h4V890h-4ZM1104 847h4V890h-4ZM1114 830h5V890h-5ZM1120 799h4V890h-4ZM1125 828h4V890h-4ZM1130 829h4V890h-4ZM1140 846h5V890h-5ZM1146 834h4V890h-4ZM1151 801h4V890h-4ZM1156 814h4V890h-4ZM1161 830h4V890h-4ZM1166 791h5V890h-5ZM1172 806h4V890h-4ZM1182 836h4V890h-4ZM1187 840h4V890h-4ZM1198 817h4V890h-4ZM1213 836h4V890h-4ZM1224 851h4V890h-4ZM1234 850h4V890h-4ZM1239 857h5V890h-5ZM1245 856h4V890h-4ZM1250 862h4V890h-4ZM1260 850h4V890h-4ZM1276 861h4V890h-4ZM1281 854h4V890h-4ZM1286 861h4V890h-4ZM1297 864h4V890h-4ZM1302 856h4V890h-4Z" fill="#1400ff"/>
<path d="M0.0 863.2 L8.2 862.0 L16.5 863.7 L32.9 863.7 L49.4 863.2 L65.8 862.5 L82.3 861.2 L98.8 859.5 L115.2 859.0 L123.5 860.0 L131.7 860.0 L148.1 860.4 L164.6 861.2 L172.8 861.2 L181.1 862.0 L197.5 863.7 L205.8 863.7 L214.0 862.8 L222.2 863.2 L230.5 863.7 L240.0 864.0 L248.2 864.2 L256.5 864.0 L263.0 864.8 L268.0 864.0 L274.6 865.3 L282.8 864.0 L289.4 865.0 L305.8 865.0 L322.3 864.8 L338.8 864.5 L342.1 864.0 L347.0 864.8 L355.2 864.8 L363.5 866.1 L371.7 865.6 L379.9 865.0 L388.1 865.3 L396.4 864.5 L403.0 865.3 L409.5 864.5 L417.8 863.7 L422.7 863.2 L429.3 864.2 L437.5 864.2 L454.0 864.2 L470.5 864.2 L480.0 864.8 L488.2 866.5 L496.5 866.1 L504.7 866.1 L512.9 866.1 L521.2 867.3 L529.4 867.3 L534.3 868.3 L542.6 868.3 L549.1 868.3 L554.1 866.6 L560.7 867.8 L570.5 867.8 L578.8 867.3 L587.0 867.4 L595.2 867.3 L603.5 866.5 L611.7 866.5 L619.9 866.1 L628.1 865.3 L636.4 864.5 L644.6 864.5 L652.8 863.7 L661.1 863.3 L677.5 863.3 L694.0 863.3 L700.6 864.0 L705.5 865.0 L710.5 864.2 L720.0 864.5 L728.2 863.3 L736.5 863.7 L752.9 863.3 L769.4 863.3 L782.6 863.3 L789.1 864.5 L799.0 864.8 L805.6 865.6 L818.8 865.3 L835.2 865.3 L851.7 865.0 L859.9 864.8 L868.1 865.6 L874.7 866.6 L883.0 866.1 L887.9 864.2 L892.8 864.0 L897.8 865.3 L902.7 866.1 L917.5 866.1 L934.0 865.6 L942.2 866.1 L950.5 865.3 L960.0 865.3 L976.5 865.3 L992.9 864.8 L1001.2 864.0 L1007.7 864.8 L1014.3 864.2 L1022.6 864.0 L1029.1 864.2 L1035.7 865.0 L1045.6 864.2 L1058.8 864.2 L1067.0 863.3 L1075.2 864.2 L1088.4 864.2 L1095.0 863.7 L1101.6 862.5 L1108.1 861.5 L1114.7 860.4 L1119.7 858.7 L1124.6 856.3 L1131.2 854.9 L1137.8 853.8 L1142.7 853.5 L1147.7 852.6 L1152.6 851.3 L1157.5 849.7 L1160.0 848.8 L1164.9 847.2 L1169.9 843.9 L1176.5 841.8 L1184.7 840.3 L1192.9 838.6 L1201.2 836.8 L1209.4 835.3 L1217.6 833.7 L1225.8 832.1 L1234.1 831.9 L1242.3 832.1 L1250.5 833.2 L1258.8 834.4 L1263.7 835.7 L1268.6 837.7 L1275.2 839.0 L1281.8 839.8 L1288.4 840.3 L1294.2 840.3 L1299.9 843.6 L1304.9 844.7 L1309.8 845.6 L1315.2 848.3" fill="none" stroke="#5f8a4e" stroke-width="2.2" stroke-linejoin="round" stroke-linecap="round"/></g>
<path d="M1387.5 0V887" stroke="#dcdcdc" stroke-width="1"/>
<rect x="0" y="613" width="1458" height="3" fill="#e0e0e0"/>
<rect x="0" y="698" width="1458" height="3" fill="#e0e0e0"/>
<rect x="0" y="783" width="1458" height="3" fill="#e0e0e0"/>
<text x="22.6 32.6 39.6" y="607" font-size="12" fill="#4a4a4a" transform="matrix(1 0 0 1.04 0 -24.280)">Mai</text>
<path d="M33.5 609.3V613" stroke="#333" stroke-width="1"/>
<text x="137.6 143.6 150.6" y="607" font-size="12" fill="#4a4a4a" transform="matrix(1 0 0 1.04 0 -24.280)">Jun</text>
<path d="M148.5 609.3V613" stroke="#333" stroke-width="1"/>
<text x="238.6 244.6 251.6" y="607" font-size="12" fill="#4a4a4a" transform="matrix(1 0 0 1.04 0 -24.280)">Jul</text>
<path d="M247.5 609.3V613" stroke="#333" stroke-width="1"/>
<text x="355.6 363.6 370.6" y="607" font-size="12" fill="#4a4a4a" transform="matrix(1 0 0 1.04 0 -24.280)">Aug</text>
<path d="M367.5 609.3V613" stroke="#333" stroke-width="1"/>
<text x="469.6 477.6 484.6" y="607" font-size="12" fill="#4a4a4a" transform="matrix(1 0 0 1.04 0 -24.280)">Sep</text>
<path d="M481.5 609.3V613" stroke="#333" stroke-width="1"/>
<text x="581.6 590.6 596.6" y="607" font-size="12" fill="#4a4a4a" transform="matrix(1 0 0 1.04 0 -24.280)">Okt</text>
<path d="M591.5 609.3V613" stroke="#333" stroke-width="1"/>
<text x="693.6 702.6 709.6" y="607" font-size="12" fill="#4a4a4a" transform="matrix(1 0 0 1.04 0 -24.280)">Nov</text>
<path d="M705.5 609.3V613" stroke="#333" stroke-width="1"/>
<text x="803.6 812.6 819.6" y="607" font-size="12" fill="#4a4a4a" transform="matrix(1 0 0 1.04 0 -24.280)">Dez</text>
<path d="M815.5 609.3V613" stroke="#333" stroke-width="1"/>
<text x="888.1 894.1 901.1 908.1 911.1 913.1 920.1" y="607" font-size="12" fill="#4a4a4a" transform="matrix(1 0 0 1.04 0 -24.280)">Jan '20</text>
<path d="M908.5 609.3V613" stroke="#333" stroke-width="1"/>
<text x="1012.1 1019.1 1026.1" y="607" font-size="12" fill="#4a4a4a" transform="matrix(1 0 0 1.04 0 -24.280)">Feb</text>
<path d="M1023.5 609.3V613" stroke="#333" stroke-width="1"/>
<text x="1116.1 1126.1 1133.1" y="607" font-size="12" fill="#4a4a4a" transform="matrix(1 0 0 1.04 0 -24.280)">Mär</text>
<path d="M1127.5 609.3V613" stroke="#333" stroke-width="1"/>
<text x="1232.1 1240.1 1247.1" y="607" font-size="12" fill="#4a4a4a" transform="matrix(1 0 0 1.04 0 -24.280)">Apr</text>
<path d="M1242.5 609.3V613" stroke="#333" stroke-width="1"/>
<g><path d="M1388 591.5H1392" stroke="#333" stroke-width="1"/><text x="1397.6 1404.6 1407.6 1414.6 1421.6 1428.6 1431.6 1438.6" y="595.0" font-size="12" fill="#4a4a4a" transform="matrix(1 0 0 1.05 0 -29.750)">7.000,00</text></g>
<g><path d="M1388 520.5H1392" stroke="#333" stroke-width="1"/><text x="1397.6 1404.6 1407.6 1414.6 1421.6 1428.6 1431.6 1438.6" y="524.0" font-size="12" fill="#4a4a4a" transform="matrix(1 0 0 1.05 0 -26.200)">8.000,00</text></g>
<g><path d="M1388 449.5H1392" stroke="#333" stroke-width="1"/><text x="1397.6 1404.6 1407.6 1414.6 1421.6 1428.6 1431.6 1438.6" y="453.0" font-size="12" fill="#4a4a4a" transform="matrix(1 0 0 1.05 0 -22.650)">9.000,00</text></g>
<g><path d="M1388 378.5H1392" stroke="#333" stroke-width="1"/><text x="1397.6 1404.6 1411.6 1414.6 1421.6 1428.6 1435.6 1438.6 1445.6" y="382.0" font-size="12" fill="#4a4a4a" transform="matrix(1 0 0 1.05 0 -19.100)">10.000,00</text></g>
<g><path d="M1388 307.5H1392" stroke="#333" stroke-width="1"/><text x="1397.6 1404.6 1411.6 1414.6 1421.6 1428.6 1435.6 1438.6 1445.6" y="311.0" font-size="12" fill="#4a4a4a" transform="matrix(1 0 0 1.05 0 -15.550)">11.000,00</text></g>
<g><path d="M1388 236.5H1392" stroke="#333" stroke-width="1"/><text x="1397.6 1404.6 1411.6 1414.6 1421.6 1428.6 1435.6 1438.6 1445.6" y="240.0" font-size="12" fill="#4a4a4a" transform="matrix(1 0 0 1.05 0 -12.000)">12.000,00</text></g>
<g><path d="M1388 165.5H1392" stroke="#333" stroke-width="1"/><text x="1397.6 1404.6 1411.6 1414.6 1421.6 1428.6 1435.6 1438.6 1445.6" y="169.0" font-size="12" fill="#4a4a4a" transform="matrix(1 0 0 1.05 0 -8.450)">13.000,00</text></g>
<g><path d="M1388 94.5H1392" stroke="#333" stroke-width="1"/><text x="1397.6 1404.6 1411.6 1414.6 1421.6 1428.6 1435.6 1438.6 1445.6" y="98.0" font-size="12" fill="#4a4a4a" transform="matrix(1 0 0 1.05 0 -4.900)">14.000,00</text></g>
<g><path d="M1388 24.5H1392" stroke="#333" stroke-width="1"/><text x="1397.6 1404.6 1411.6 1414.6 1421.6 1428.6 1435.6 1438.6 1445.6" y="28.0" font-size="12" fill="#4a4a4a" transform="matrix(1 0 0 1.05 0 -1.400)">15.000,00</text></g>
<g><path d="M1388 633.5H1392" stroke="#333" stroke-width="1"/><text x="1397.6 1404.6 1407.6 1414.6" y="637.0" font-size="12" fill="#4a4a4a" transform="matrix(1 0 0 1.05 0 -31.850)">0,00</text></g>
<g><path d="M1388 683.5H1392" stroke="#333" stroke-width="1"/><text x="1397.6 1401.6 1408.6 1411.6 1418.6 1425.6 1432.6 1435.6 1442.6" y="687.0" font-size="12" fill="#4a4a4a" transform="matrix(1 0 0 1.05 0 -34.350)">-1.000,00</text></g>
<g clip-path="url(#a2)"><path d="M1388 705.5H1392" stroke="#333" stroke-width="1"/><text x="1397.6 1404.6 1411.6 1418.6 1421.6 1428.6" y="709.0" font-size="12" fill="#4a4a4a" transform="matrix(1 0 0 1.05 0 -35.450)">100,00</text></g>
<g clip-path="url(#a2)"><path d="M1388 778.5H1392" stroke="#333" stroke-width="1"/><text x="1397.6 1404.6 1407.6 1414.6" y="782.0" font-size="12" fill="#4a4a4a" transform="matrix(1 0 0 1.05 0 -39.100)">0,00</text></g>
<g><path d="M1388 813.5H1392" stroke="#333" stroke-width="1"/><text x="1397.6 1404.6 1411.6 1414.6 1421.6 1428.6" y="817.0" font-size="12" fill="#4a4a4a" transform="matrix(1 0 0 1.05 0 -40.850)">10,00G</text></g>
<g><path d="M1388 853.5H1392" stroke="#333" stroke-width="1"/><text x="1397.6 1404.6 1407.6 1414.6 1421.6" y="857.0" font-size="12" fill="#4a4a4a" transform="matrix(1 0 0 1.05 0 -42.850)">5,00G</text></g>
<path d="M1387 248.4L1395 238.9H1458V257.9H1395Z" fill="#f5462d"/><text x="1397.6 1404.6 1411.6 1414.6 1421.6 1428.6 1435.6 1438.6 1445.6" y="252.4" font-size="12" fill="#1a1a1a" transform="matrix(1 0 0 1.05 0 -12.620)">11.845,00</text>
<path d="M1387 305.228L1395 295.728H1458V314.728H1395Z" fill="#f5462d"/><text x="1397.6 1404.6 1411.6 1414.6 1421.6 1428.6 1435.6 1438.6 1445.6" y="309.228" font-size="12" fill="#1a1a1a" transform="matrix(1 0 0 1.05 0 -15.461)">11.032,00</text>
<path d="M1387 320.28000000000003L1395 310.78000000000003H1458V329.78000000000003H1395Z" fill="#f5462d"/><text x="1397.6 1404.6 1411.6 1414.6 1421.6 1428.6 1435.6 1438.6 1445.6" y="324.28000000000003" font-size="12" fill="#1a1a1a" transform="matrix(1 0 0 1.05 0 -16.214)">10.820,00</text>
<path d="M1387 342.6L1395 333.1H1458V352.1H1395Z" fill="#a1887f"/><text x="1397.6 1404.6 1411.6 1414.6 1421.6 1428.6 1435.6 1438.6 1445.6" y="346.6" font-size="12" fill="#1a1a1a" transform="matrix(1 0 0 1.05 0 -17.330)">10.513,79</text>
<path d="M1387 444.885L1395 435.385H1458V454.385H1395Z" fill="#0000ff"/><text x="1397.6 1404.6 1407.6 1414.6 1421.6 1428.6 1431.6 1438.6" y="448.885" font-size="12" fill="#fff" transform="matrix(1 0 0 1.05 0 -22.444)">9.065,00</text>
<path d="M1387 509.73214L1395 500.23214H1458V519.2321400000001H1395Z" fill="#0000ff"/><text x="1397.6 1404.6 1407.6 1414.6 1421.6 1428.6 1431.6 1438.6" y="513.7321400000001" font-size="12" fill="#fff" transform="matrix(1 0 0 1.05 0 -25.687)">8.151,66</text>
<rect x="5" y="5" width="390" height="16" fill="#fff" fill-opacity="0.8"/>
<rect x="5" y="21" width="130" height="16" fill="#fff" fill-opacity="0.8"/>
<rect x="5" y="37" width="130" height="16" fill="#fff" fill-opacity="0.8"/>
<rect x="5" y="53" width="124" height="16" fill="#fff" fill-opacity="0.8"/>
<rect x="5" y="69" width="228" height="16" fill="#fff" fill-opacity="0.8"/>
<rect x="5" y="85" width="222" height="16" fill="#fff" fill-opacity="0.8"/>
<g fill="none" stroke="#a1887f" stroke-width="1.1" stroke-linecap="round"><rect x="6.3" y="9.3" width="2.4" height="4.6" rx="0.8"/><path d="M7.5 14V17.6"/><path d="M11.5 7.6V11"/><rect x="10.3" y="11" width="2.4" height="5" rx="0.8"/><path d="M11.5 16V17.6"/><path d="M15.6 9.6V13"/><rect x="14.4" y="13" width="2.4" height="4.6" rx="0.8"/></g>
<text x="23.3 31.3 38.3 45.3 48.3 52.3 59.3 66.3 73.3 81.3 88.3 91.3 94.3 100.3 106.3 112.3 115.3" y="16.7" font-size="11" fill="#a1887f" transform="matrix(1 0 0 1.09 0 -1.503)">DAX (XETRA, Last)</text>
<text x="125.2 134.2 137.2 140.2 146.2 152.2 155.2 161.2 167.2 173.2 176.2 182.2" y="16.7" font-size="11" fill="#a1887f" transform="matrix(1 0 0 1.09 0 -1.503)">O: 10.437,38</text>
<text x="194.5 202.5 205.5 208.5 214.5 220.5 223.5 229.5 235.5 241.5 244.5 250.5" y="16.7" font-size="11" fill="#a1887f" transform="matrix(1 0 0 1.09 0 -1.503)">H: 10.608,39</text>
<text x="263 269 272 275 281 287 290 296 302 308 311 317" y="16.7" font-size="11" fill="#a1887f" transform="matrix(1 0 0 1.09 0 -1.503)">L: 10.325,11</text>
<text x="328 336 339 342 348 354 357 363 369 375 378 384" y="16.7" font-size="11" fill="#a1887f" transform="matrix(1 0 0 1.09 0 -1.503)">C: 10.513,79</text>
<rect x="9" y="27.7" width="8" height="3" rx="0.5" fill="#f8492e"/>
<text x="23.3 30.3 39.3 46.3 50.3 56.3 62.3 68.3" y="32.7" font-size="11" fill="#f8492e" transform="matrix(1 0 0 1.09 0 -2.943)">SMA(200)</text>
<text x="78.3 84.3 90.3 93.3 99.3 105.3 111.3 114.3 120.3" y="32.7" font-size="11" fill="#f8492e" transform="matrix(1 0 0 1.09 0 -2.943)">12.257,79</text>
<rect x="9" y="43.7" width="8" height="3" rx="0.5" fill="#23a1c6"/>
<text x="23.3 30.3 39.3 46.3 50.3 56.3 62.3 68.3" y="48.7" font-size="11" fill="#23a1c6" transform="matrix(1 0 0 1.09 0 -4.383)">SMA(100)</text>
<text x="78.3 84.3 90.3 93.3 99.3 105.3 111.3 114.3 120.3" y="48.7" font-size="11" fill="#23a1c6" transform="matrix(1 0 0 1.09 0 -4.383)">12.124,93</text>
<rect x="9" y="59.7" width="8" height="3" rx="0.5" fill="#6b668a"/>
<text x="23.3 30.3 39.3 46.3 50.3 56.3 62.3" y="64.7" font-size="11" fill="#6b668a" transform="matrix(1 0 0 1.09 0 -5.823)">SMA(38)</text>
<text x="72.5 78.5 84.5 87.5 93.5 99.5 105.5 108.5 114.5" y="64.7" font-size="11" fill="#6b668a" transform="matrix(1 0 0 1.09 0 -5.823)">10.167,71</text>
<rect x="9" y="75.7" width="8" height="3" rx="0.5" fill="#97449b"/>
<text x="23.3 30.3 37.3 41.3 47.3 53.3 56.3 59.3 65.3" y="80.7" font-size="11" fill="#97449b" transform="matrix(1 0 0 1.09 0 -7.263)">BB(20, 2)</text>
<text x="75.3 81.3 87.3 90.3 96.3 102.3 108.3 111.3 117.3" y="80.7" font-size="11" fill="#97449b" transform="matrix(1 0 0 1.09 0 -7.263)">10.933,85</text>
<text x="129.7 135.7 141.7 144.7 150.7 156.7 162.7 165.7 171.7" y="80.7" font-size="11" fill="#cd5c62" transform="matrix(1 0 0 1.09 0 -7.263)">10.149,43</text>
<text x="183.3 189.3 192.3 198.3 204.3 210.3 213.3 219.3" y="80.7" font-size="11" fill="#ef9519" transform="matrix(1 0 0 1.09 0 -7.263)">9.365,01</text>
<g fill="none" stroke="#333" stroke-width="1.2" stroke-linecap="round" stroke-linejoin="round"><circle cx="12.2" cy="92.6" r="4.9"/><path d="M12.2 89.6V92.8L14.2 94.3"/></g>
<text x="23.3 29.3 35.3 38.3 44.3 50.3 53.3 59.3 65.3 71.3 77.3 80.3 84.3 87.3 93.3 99.3 102.3 108.3 114.3 117.3 123.3 129.3 135.3" y="96.7" font-size="11" fill="#333" transform="matrix(1 0 0 1.09 0 -8.703)">23.04.2019 - 23.04.2020</text>
<text x="150.5 154.5 160.5 163.5 168.5 174.5 180.5 184.5 187.5 190.5 196.5 199.5 205.5 211.5 217.5" y="96.7" font-size="11" fill="#333" transform="matrix(1 0 0 1.09 0 -8.703)">(1 Jahr, 1 Tag)</text>
<rect x="5" y="621" width="219" height="16" fill="#fff" fill-opacity="0.8"/>
<rect x="9" y="627.7" width="8" height="3" rx="0.5" fill="#0a12fa"/>
<text x="23.3 32.3 39.3 47.3 55.3 59.3 65.3 71.3 74.3 77.3 83.3 89.3 92.3 95.3 101.3" y="632.6" font-size="11" fill="#0a12fa" transform="matrix(1 0 0 1.09 0 -56.934)">MACD(12, 26, 9)</text>
<text x="110.9 114.9 120.9 123.9 129.9" y="632.6" font-size="11" fill="#0a12fa" transform="matrix(1 0 0 1.09 0 -56.934)">-6,36</text>
<text x="142.2 146.2 152.2 158.2 164.2 167.2 173.2" y="632.6" font-size="11" fill="#0892ff" transform="matrix(1 0 0 1.09 0 -56.934)">-126,30</text>
<text x="185.7 191.7 197.7 203.7 206.7 212.7" y="632.6" font-size="11" fill="#aac3e0" transform="matrix(1 0 0 1.09 0 -56.934)">119,94</text>
<rect x="5" y="706" width="166" height="16" fill="#fff" fill-opacity="0.8"/>
<rect x="9" y="712.7" width="8" height="3" rx="0.5" fill="#0a12fa"/>
<text x="23.3 30.3 37.3 44.3 53.3 61.3 65.3 71.3 74.3 77.3 83.3 86.3 89.3 95.3" y="717.6" font-size="11" fill="#0a12fa" transform="matrix(1 0 0 1.09 0 -64.584)">SSTOC(5, 5, 3)</text>
<text x="105 111 117 120 126" y="717.6" font-size="11" fill="#0a12fa" transform="matrix(1 0 0 1.09 0 -64.584)">46,21</text>
<text x="138 144 150 153 159" y="717.6" font-size="11" fill="#0892ff" transform="matrix(1 0 0 1.09 0 -64.584)">40,06</text>
<rect x="5" y="791" width="151" height="16" fill="#fff" fill-opacity="0.8"/>
<path d="M7 797.5h2.6V803H7ZM11.1 794.2h2.7V803h-2.7ZM15.2 799.2h2.6V803h-2.6Z" fill="#999"/>
<text x="23.3 30.3 36.3 38.3 44.3 53.3 59.3 63.3 69.3 75.3" y="802.6" font-size="11" fill="#999" transform="matrix(1 0 0 1.09 0 -72.234)">Volume(28)</text>
<text x="84 90 93 99 105" y="802.6" font-size="11" fill="#999" transform="matrix(1 0 0 1.09 0 -72.234)">3,89G</text>
<text x="120.2 126.2 129.2 135.2 141.2" y="802.6" font-size="11" fill="#5f8a4e" transform="matrix(1 0 0 1.09 0 -72.234)">5,62G</text>
</svg>
</body></html>
